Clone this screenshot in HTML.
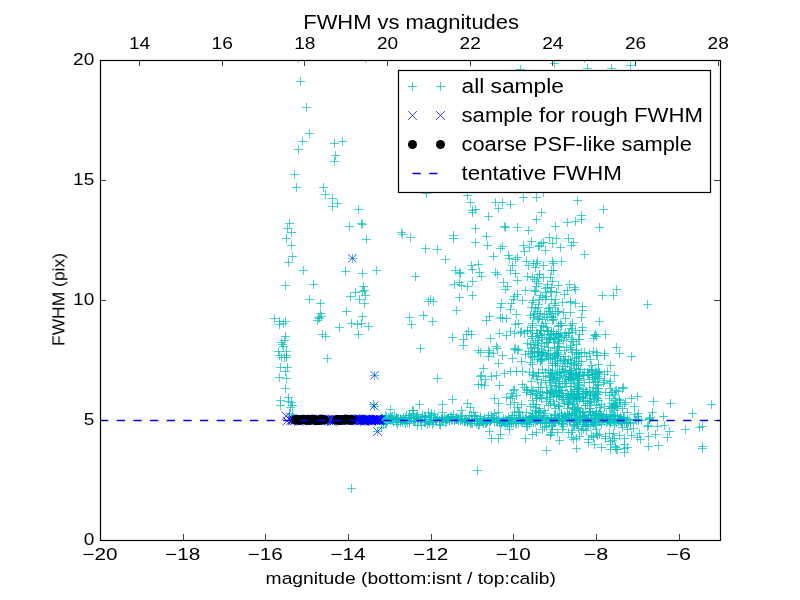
<!DOCTYPE html><html><head><meta charset="utf-8"><style>html,body{margin:0;padding:0;background:#fff;width:800px;height:600px;overflow:hidden}svg{display:block}</style></head><body>
<svg width="800" height="600" viewBox="0 0 800 600">
<rect x="0" y="0" width="800" height="600" fill="#fff"/>
<defs><clipPath id="ax"><rect x="100" y="60" width="620" height="480"/></clipPath></defs><g clip-path="url(#ax)">
<g stroke="#00bfbf" stroke-width="0.7" fill="none"><path d="M376 419.5h9M380.5 415v9"/><path d="M377 419.5h9M381.5 415v9"/><path d="M377 417.5h9M381.5 413v9"/><path d="M377 427.5h9M381.5 423v9"/><path d="M378 419.5h9M382.5 415v9"/><path d="M379 424.5h9M383.5 420v9"/><path d="M378 418.5h9M382.5 414v9"/><path d="M380 420.5h9M384.5 416v9"/><path d="M381 415.5h9M385.5 411v9"/><path d="M381 419.5h9M385.5 415v9"/><path d="M381 423.5h9M385.5 419v9"/><path d="M382 416.5h9M386.5 412v9"/><path d="M382 423.5h9M386.5 419v9"/><path d="M383 421.5h9M387.5 417v9"/><path d="M384 417.5h9M388.5 413v9"/><path d="M384 418.5h9M388.5 414v9"/><path d="M385 418.5h9M389.5 414v9"/><path d="M386 420.5h9M390.5 416v9"/><path d="M386 418.5h9M390.5 414v9"/><path d="M387 417.5h9M391.5 413v9"/><path d="M387 419.5h9M391.5 415v9"/><path d="M387 417.5h9M391.5 413v9"/><path d="M388 416.5h9M392.5 412v9"/><path d="M388 420.5h9M392.5 416v9"/><path d="M389 422.5h9M393.5 418v9"/><path d="M390 415.5h9M394.5 411v9"/><path d="M391 420.5h9M395.5 416v9"/><path d="M392 418.5h9M396.5 414v9"/><path d="M392 417.5h9M396.5 413v9"/><path d="M392 422.5h9M396.5 418v9"/><path d="M393 418.5h9M397.5 414v9"/><path d="M393 424.5h9M397.5 420v9"/><path d="M394 418.5h9M398.5 414v9"/><path d="M394 421.5h9M398.5 417v9"/><path d="M396 419.5h9M400.5 415v9"/><path d="M396 418.5h9M400.5 414v9"/><path d="M396 422.5h9M400.5 418v9"/><path d="M397 419.5h9M401.5 415v9"/><path d="M398 422.5h9M402.5 418v9"/><path d="M398 420.5h9M402.5 416v9"/><path d="M399 417.5h9M403.5 413v9"/><path d="M400 420.5h9M404.5 416v9"/><path d="M400 420.5h9M404.5 416v9"/><path d="M401 423.5h9M405.5 419v9"/><path d="M401 417.5h9M405.5 413v9"/><path d="M402 420.5h9M406.5 416v9"/><path d="M402 415.5h9M406.5 411v9"/><path d="M403 422.5h9M407.5 418v9"/><path d="M404 417.5h9M408.5 413v9"/><path d="M405 415.5h9M409.5 411v9"/><path d="M405 420.5h9M409.5 416v9"/><path d="M405 423.5h9M409.5 419v9"/><path d="M405 415.5h9M409.5 411v9"/><path d="M406 417.5h9M410.5 413v9"/><path d="M407 418.5h9M411.5 414v9"/><path d="M407 417.5h9M411.5 413v9"/><path d="M409 421.5h9M413.5 417v9"/><path d="M409 417.5h9M413.5 413v9"/><path d="M410 418.5h9M414.5 414v9"/><path d="M410 421.5h9M414.5 417v9"/><path d="M411 418.5h9M415.5 414v9"/><path d="M411 421.5h9M415.5 417v9"/><path d="M412 417.5h9M416.5 413v9"/><path d="M412 416.5h9M416.5 412v9"/><path d="M413 414.5h9M417.5 410v9"/><path d="M413 425.5h9M417.5 421v9"/><path d="M414 419.5h9M418.5 415v9"/><path d="M414 421.5h9M418.5 417v9"/><path d="M416 420.5h9M420.5 416v9"/><path d="M416 420.5h9M420.5 416v9"/><path d="M417 420.5h9M421.5 416v9"/><path d="M417 425.5h9M421.5 421v9"/><path d="M418 417.5h9M422.5 413v9"/><path d="M418 415.5h9M422.5 411v9"/><path d="M418 417.5h9M422.5 413v9"/><path d="M420 416.5h9M424.5 412v9"/><path d="M420 422.5h9M424.5 418v9"/><path d="M421 422.5h9M425.5 418v9"/><path d="M421 417.5h9M425.5 413v9"/><path d="M421 416.5h9M425.5 412v9"/><path d="M422 419.5h9M426.5 415v9"/><path d="M423 424.5h9M427.5 420v9"/><path d="M424 412.5h9M428.5 408v9"/><path d="M424 421.5h9M428.5 417v9"/><path d="M425 417.5h9M429.5 413v9"/><path d="M425 423.5h9M429.5 419v9"/><path d="M426 417.5h9M430.5 413v9"/><path d="M426 419.5h9M430.5 415v9"/><path d="M427 415.5h9M431.5 411v9"/><path d="M427 417.5h9M431.5 413v9"/><path d="M428 424.5h9M432.5 420v9"/><path d="M429 422.5h9M433.5 418v9"/><path d="M429 419.5h9M433.5 415v9"/><path d="M430 417.5h9M434.5 413v9"/><path d="M430 414.5h9M434.5 410v9"/><path d="M431 419.5h9M435.5 415v9"/><path d="M431 420.5h9M435.5 416v9"/><path d="M432 420.5h9M436.5 416v9"/><path d="M432 420.5h9M436.5 416v9"/><path d="M433 417.5h9M437.5 413v9"/><path d="M435 420.5h9M439.5 416v9"/><path d="M435 420.5h9M439.5 416v9"/><path d="M435 424.5h9M439.5 420v9"/><path d="M436 425.5h9M440.5 421v9"/><path d="M437 419.5h9M441.5 415v9"/><path d="M437 418.5h9M441.5 414v9"/><path d="M438 420.5h9M442.5 416v9"/><path d="M438 418.5h9M442.5 414v9"/><path d="M438 418.5h9M442.5 414v9"/><path d="M439 420.5h9M443.5 416v9"/><path d="M440 417.5h9M444.5 413v9"/><path d="M441 422.5h9M445.5 418v9"/><path d="M441 419.5h9M445.5 415v9"/><path d="M442 421.5h9M446.5 417v9"/><path d="M442 419.5h9M446.5 415v9"/><path d="M443 418.5h9M447.5 414v9"/><path d="M444 417.5h9M448.5 413v9"/><path d="M443 419.5h9M447.5 415v9"/><path d="M444 418.5h9M448.5 414v9"/><path d="M445 420.5h9M449.5 416v9"/><path d="M445 420.5h9M449.5 416v9"/><path d="M446 416.5h9M450.5 412v9"/><path d="M447 420.5h9M451.5 416v9"/><path d="M447 416.5h9M451.5 412v9"/><path d="M448 418.5h9M452.5 414v9"/><path d="M448 419.5h9M452.5 415v9"/><path d="M449 414.5h9M453.5 410v9"/><path d="M450 420.5h9M454.5 416v9"/><path d="M450 420.5h9M454.5 416v9"/><path d="M451 419.5h9M455.5 415v9"/><path d="M452 419.5h9M456.5 415v9"/><path d="M452 419.5h9M456.5 415v9"/><path d="M452 417.5h9M456.5 413v9"/><path d="M453 419.5h9M457.5 415v9"/><path d="M454 418.5h9M458.5 414v9"/><path d="M454 420.5h9M458.5 416v9"/><path d="M456 416.5h9M460.5 412v9"/><path d="M456 420.5h9M460.5 416v9"/><path d="M456 420.5h9M460.5 416v9"/><path d="M457 419.5h9M461.5 415v9"/><path d="M458 419.5h9M462.5 415v9"/><path d="M458 421.5h9M462.5 417v9"/><path d="M458 415.5h9M462.5 411v9"/><path d="M460 421.5h9M464.5 417v9"/><path d="M460 421.5h9M464.5 417v9"/><path d="M461 421.5h9M465.5 417v9"/><path d="M460 421.5h9M464.5 417v9"/><path d="M461 418.5h9M465.5 414v9"/><path d="M462 419.5h9M466.5 415v9"/><path d="M463 422.5h9M467.5 418v9"/><path d="M463 421.5h9M467.5 417v9"/><path d="M464 420.5h9M468.5 416v9"/><path d="M465 415.5h9M469.5 411v9"/><path d="M465 421.5h9M469.5 417v9"/><path d="M466 423.5h9M470.5 419v9"/><path d="M467 423.5h9M471.5 419v9"/><path d="M467 420.5h9M471.5 416v9"/><path d="M467 415.5h9M471.5 411v9"/><path d="M468 423.5h9M472.5 419v9"/><path d="M468 419.5h9M472.5 415v9"/><path d="M469 412.5h9M473.5 408v9"/><path d="M470 421.5h9M474.5 417v9"/><path d="M471 415.5h9M475.5 411v9"/><path d="M470 416.5h9M474.5 412v9"/><path d="M472 418.5h9M476.5 414v9"/><path d="M472 423.5h9M476.5 419v9"/><path d="M473 419.5h9M477.5 415v9"/><path d="M473 421.5h9M477.5 417v9"/><path d="M474 425.5h9M478.5 421v9"/><path d="M475 424.5h9M479.5 420v9"/><path d="M475 420.5h9M479.5 416v9"/><path d="M476 419.5h9M480.5 415v9"/><path d="M476 416.5h9M480.5 412v9"/><path d="M476 418.5h9M480.5 414v9"/><path d="M477 421.5h9M481.5 417v9"/><path d="M478 421.5h9M482.5 417v9"/><path d="M479 420.5h9M483.5 416v9"/><path d="M479 423.5h9M483.5 419v9"/><path d="M480 418.5h9M484.5 414v9"/><path d="M480 420.5h9M484.5 416v9"/><path d="M481 422.5h9M485.5 418v9"/><path d="M482 421.5h9M486.5 417v9"/><path d="M482 423.5h9M486.5 419v9"/><path d="M483 421.5h9M487.5 417v9"/><path d="M484 419.5h9M488.5 415v9"/><path d="M483 421.5h9M487.5 417v9"/><path d="M484 417.5h9M488.5 413v9"/><path d="M484 415.5h9M488.5 411v9"/><path d="M485 421.5h9M489.5 417v9"/><path d="M486 420.5h9M490.5 416v9"/><path d="M486 421.5h9M490.5 417v9"/><path d="M487 415.5h9M491.5 411v9"/><path d="M487 419.5h9M491.5 415v9"/><path d="M488 418.5h9M492.5 414v9"/><path d="M489 417.5h9M493.5 413v9"/><path d="M490 413.5h9M494.5 409v9"/><path d="M490 419.5h9M494.5 415v9"/><path d="M490 422.5h9M494.5 418v9"/><path d="M492 421.5h9M496.5 417v9"/><path d="M492 418.5h9M496.5 414v9"/><path d="M493 420.5h9M497.5 416v9"/><path d="M493 422.5h9M497.5 418v9"/><path d="M494 412.5h9M498.5 408v9"/><path d="M494 419.5h9M498.5 415v9"/><path d="M495 421.5h9M499.5 417v9"/><path d="M495 422.5h9M499.5 418v9"/><path d="M496 425.5h9M500.5 421v9"/><path d="M497 423.5h9M501.5 419v9"/><path d="M498 421.5h9M502.5 417v9"/><path d="M497 421.5h9M501.5 417v9"/><path d="M498 422.5h9M502.5 418v9"/><path d="M499 418.5h9M503.5 414v9"/><path d="M499 420.5h9M503.5 416v9"/><path d="M500 422.5h9M504.5 418v9"/><path d="M501 425.5h9M505.5 421v9"/><path d="M501 419.5h9M505.5 415v9"/><path d="M502 420.5h9M506.5 416v9"/><path d="M503 420.5h9M507.5 416v9"/><path d="M503 424.5h9M507.5 420v9"/><path d="M504 420.5h9M508.5 416v9"/><path d="M505 424.5h9M509.5 420v9"/><path d="M504 417.5h9M508.5 413v9"/><path d="M505 419.5h9M509.5 415v9"/><path d="M506 419.5h9M510.5 415v9"/><path d="M507 422.5h9M511.5 418v9"/><path d="M507 423.5h9M511.5 419v9"/><path d="M508 415.5h9M512.5 411v9"/><path d="M508 417.5h9M512.5 413v9"/><path d="M509 421.5h9M513.5 417v9"/><path d="M510 418.5h9M514.5 414v9"/><path d="M510 415.5h9M514.5 411v9"/><path d="M511 423.5h9M515.5 419v9"/><path d="M512 421.5h9M516.5 417v9"/><path d="M512 421.5h9M516.5 417v9"/><path d="M512 418.5h9M516.5 414v9"/><path d="M512 423.5h9M516.5 419v9"/><path d="M514 419.5h9M518.5 415v9"/><path d="M514 423.5h9M518.5 419v9"/><path d="M515 417.5h9M519.5 413v9"/><path d="M516 417.5h9M520.5 413v9"/><path d="M516 420.5h9M520.5 416v9"/><path d="M516 418.5h9M520.5 414v9"/><path d="M517 422.5h9M521.5 418v9"/><path d="M518 421.5h9M522.5 417v9"/><path d="M518 417.5h9M522.5 413v9"/><path d="M519 420.5h9M523.5 416v9"/><path d="M519 419.5h9M523.5 415v9"/><path d="M520 422.5h9M524.5 418v9"/><path d="M521 418.5h9M525.5 414v9"/><path d="M521 419.5h9M525.5 415v9"/><path d="M522 423.5h9M526.5 419v9"/><path d="M522 426.5h9M526.5 422v9"/><path d="M523 426.5h9M527.5 422v9"/><path d="M523 420.5h9M527.5 416v9"/><path d="M524 420.5h9M528.5 416v9"/><path d="M525 424.5h9M529.5 420v9"/><path d="M525 419.5h9M529.5 415v9"/><path d="M526 417.5h9M530.5 413v9"/><path d="M526 420.5h9M530.5 416v9"/><path d="M527 421.5h9M531.5 417v9"/><path d="M527 417.5h9M531.5 413v9"/><path d="M528 415.5h9M532.5 411v9"/><path d="M528 416.5h9M532.5 412v9"/><path d="M529 422.5h9M533.5 418v9"/><path d="M529 418.5h9M533.5 414v9"/><path d="M530 419.5h9M534.5 415v9"/><path d="M532 420.5h9M536.5 416v9"/><path d="M531 422.5h9M535.5 418v9"/><path d="M532 419.5h9M536.5 415v9"/><path d="M533 421.5h9M537.5 417v9"/><path d="M534 417.5h9M538.5 413v9"/><path d="M534 419.5h9M538.5 415v9"/><path d="M534 417.5h9M538.5 413v9"/><path d="M536 423.5h9M540.5 419v9"/><path d="M536 420.5h9M540.5 416v9"/><path d="M537 418.5h9M541.5 414v9"/><path d="M536 419.5h9M540.5 415v9"/><path d="M538 419.5h9M542.5 415v9"/><path d="M538 422.5h9M542.5 418v9"/><path d="M539 415.5h9M543.5 411v9"/><path d="M539 417.5h9M543.5 413v9"/><path d="M540 419.5h9M544.5 415v9"/><path d="M540 427.5h9M544.5 423v9"/><path d="M541 423.5h9M545.5 419v9"/><path d="M542 419.5h9M546.5 415v9"/><path d="M542 422.5h9M546.5 418v9"/><path d="M542 426.5h9M546.5 422v9"/><path d="M543 419.5h9M547.5 415v9"/><path d="M544 419.5h9M548.5 415v9"/><path d="M545 423.5h9M549.5 419v9"/><path d="M545 421.5h9M549.5 417v9"/><path d="M545 422.5h9M549.5 418v9"/><path d="M547 418.5h9M551.5 414v9"/><path d="M547 425.5h9M551.5 421v9"/><path d="M548 425.5h9M552.5 421v9"/><path d="M549 421.5h9M553.5 417v9"/><path d="M549 422.5h9M553.5 418v9"/><path d="M550 414.5h9M554.5 410v9"/><path d="M550 422.5h9M554.5 418v9"/><path d="M550 419.5h9M554.5 415v9"/><path d="M551 421.5h9M555.5 417v9"/><path d="M551 422.5h9M555.5 418v9"/><path d="M552 419.5h9M556.5 415v9"/><path d="M553 415.5h9M557.5 411v9"/><path d="M554 421.5h9M558.5 417v9"/><path d="M554 418.5h9M558.5 414v9"/><path d="M554 419.5h9M558.5 415v9"/><path d="M555 418.5h9M559.5 414v9"/><path d="M555 419.5h9M559.5 415v9"/><path d="M557 413.5h9M561.5 409v9"/><path d="M557 423.5h9M561.5 419v9"/><path d="M557 421.5h9M561.5 417v9"/><path d="M558 423.5h9M562.5 419v9"/><path d="M559 426.5h9M563.5 422v9"/><path d="M559 420.5h9M563.5 416v9"/><path d="M560 415.5h9M564.5 411v9"/><path d="M561 417.5h9M565.5 413v9"/><path d="M561 416.5h9M565.5 412v9"/><path d="M561 418.5h9M565.5 414v9"/><path d="M562 420.5h9M566.5 416v9"/><path d="M563 414.5h9M567.5 410v9"/><path d="M563 421.5h9M567.5 417v9"/><path d="M564 415.5h9M568.5 411v9"/><path d="M565 421.5h9M569.5 417v9"/><path d="M565 419.5h9M569.5 415v9"/><path d="M565 419.5h9M569.5 415v9"/><path d="M566 420.5h9M570.5 416v9"/><path d="M567 418.5h9M571.5 414v9"/><path d="M567 418.5h9M571.5 414v9"/><path d="M567 415.5h9M571.5 411v9"/><path d="M569 420.5h9M573.5 416v9"/><path d="M569 425.5h9M573.5 421v9"/><path d="M570 426.5h9M574.5 422v9"/><path d="M570 424.5h9M574.5 420v9"/><path d="M571 422.5h9M575.5 418v9"/><path d="M571 418.5h9M575.5 414v9"/><path d="M572 424.5h9M576.5 420v9"/><path d="M572 420.5h9M576.5 416v9"/><path d="M573 420.5h9M577.5 416v9"/><path d="M573 419.5h9M577.5 415v9"/><path d="M574 420.5h9M578.5 416v9"/><path d="M575 419.5h9M579.5 415v9"/><path d="M576 420.5h9M580.5 416v9"/><path d="M576 417.5h9M580.5 413v9"/><path d="M576 419.5h9M580.5 415v9"/><path d="M578 426.5h9M582.5 422v9"/><path d="M578 420.5h9M582.5 416v9"/><path d="M579 419.5h9M583.5 415v9"/><path d="M579 421.5h9M583.5 417v9"/><path d="M579 422.5h9M583.5 418v9"/><path d="M580 417.5h9M584.5 413v9"/><path d="M580 419.5h9M584.5 415v9"/><path d="M581 422.5h9M585.5 418v9"/><path d="M582 421.5h9M586.5 417v9"/><path d="M582 420.5h9M586.5 416v9"/><path d="M583 424.5h9M587.5 420v9"/><path d="M584 418.5h9M588.5 414v9"/><path d="M584 420.5h9M588.5 416v9"/><path d="M584 418.5h9M588.5 414v9"/><path d="M586 424.5h9M590.5 420v9"/><path d="M586 414.5h9M590.5 410v9"/><path d="M587 418.5h9M591.5 414v9"/><path d="M587 418.5h9M591.5 414v9"/><path d="M588 422.5h9M592.5 418v9"/><path d="M588 422.5h9M592.5 418v9"/><path d="M589 424.5h9M593.5 420v9"/><path d="M589 415.5h9M593.5 411v9"/><path d="M590 422.5h9M594.5 418v9"/><path d="M591 419.5h9M595.5 415v9"/><path d="M591 418.5h9M595.5 414v9"/><path d="M591 421.5h9M595.5 417v9"/><path d="M592 417.5h9M596.5 413v9"/><path d="M594 414.5h9M598.5 410v9"/><path d="M594 419.5h9M598.5 415v9"/><path d="M594 415.5h9M598.5 411v9"/><path d="M595 418.5h9M599.5 414v9"/><path d="M595 421.5h9M599.5 417v9"/><path d="M596 421.5h9M600.5 417v9"/><path d="M597 424.5h9M601.5 420v9"/><path d="M598 419.5h9M602.5 415v9"/><path d="M597 415.5h9M601.5 411v9"/><path d="M598 418.5h9M602.5 414v9"/><path d="M599 417.5h9M603.5 413v9"/><path d="M599 416.5h9M603.5 412v9"/><path d="M600 421.5h9M604.5 417v9"/><path d="M601 418.5h9M605.5 414v9"/><path d="M602 414.5h9M606.5 410v9"/><path d="M602 422.5h9M606.5 418v9"/><path d="M603 419.5h9M607.5 415v9"/><path d="M603 421.5h9M607.5 417v9"/><path d="M604 420.5h9M608.5 416v9"/><path d="M605 422.5h9M609.5 418v9"/><path d="M605 420.5h9M609.5 416v9"/><path d="M606 423.5h9M610.5 419v9"/><path d="M606 421.5h9M610.5 417v9"/><path d="M606 421.5h9M610.5 417v9"/><path d="M607 421.5h9M611.5 417v9"/><path d="M607 416.5h9M611.5 412v9"/><path d="M609 419.5h9M613.5 415v9"/><path d="M609 419.5h9M613.5 415v9"/><path d="M609 420.5h9M613.5 416v9"/><path d="M610 416.5h9M614.5 412v9"/><path d="M610 425.5h9M614.5 421v9"/><path d="M611 420.5h9M615.5 416v9"/><path d="M611 416.5h9M615.5 412v9"/><path d="M613 415.5h9M617.5 411v9"/><path d="M613 419.5h9M617.5 415v9"/><path d="M614 420.5h9M618.5 416v9"/><path d="M614 418.5h9M618.5 414v9"/><path d="M615 420.5h9M619.5 416v9"/><path d="M615 418.5h9M619.5 414v9"/><path d="M616 421.5h9M620.5 417v9"/><path d="M617 418.5h9M621.5 414v9"/><path d="M617 420.5h9M621.5 416v9"/><path d="M617 423.5h9M621.5 419v9"/><path d="M618 427.5h9M622.5 423v9"/><path d="M619 417.5h9M623.5 413v9"/><path d="M619 418.5h9M623.5 414v9"/><path d="M620 417.5h9M624.5 413v9"/><path d="M620 422.5h9M624.5 418v9"/><path d="M645 418.5h9M649.5 414v9"/><path d="M622 423.5h9M626.5 419v9"/><path d="M623 420.5h9M627.5 416v9"/><path d="M622 422.5h9M626.5 418v9"/><path d="M645 419.5h9M649.5 415v9"/><path d="M624 422.5h9M628.5 418v9"/><path d="M634 419.5h9M638.5 415v9"/><path d="M645 419.5h9M649.5 415v9"/><path d="M644 425.5h9M648.5 421v9"/><path d="M617 421.5h9M621.5 417v9"/><path d="M631 419.5h9M635.5 415v9"/><path d="M634 420.5h9M638.5 416v9"/><path d="M637 420.5h9M641.5 416v9"/><path d="M626 422.5h9M630.5 418v9"/><path d="M625 419.5h9M629.5 415v9"/><path d="M616 416.5h9M620.5 412v9"/><path d="M617 419.5h9M621.5 415v9"/><path d="M632 420.5h9M636.5 416v9"/><path d="M618 420.5h9M622.5 416v9"/><path d="M622 422.5h9M626.5 418v9"/><path d="M296 81.5h9M300.5 77v9"/><path d="M302 107.5h9M306.5 103v9"/><path d="M305 133.5h9M309.5 129v9"/><path d="M298 141.5h9M302.5 137v9"/><path d="M294 149.5h9M298.5 145v9"/><path d="M330 143.5h9M334.5 139v9"/><path d="M338 141.5h9M342.5 137v9"/><path d="M331 155.5h9M335.5 151v9"/><path d="M330 161.5h9M334.5 157v9"/><path d="M290 174.5h9M294.5 170v9"/><path d="M292 187.5h9M296.5 183v9"/><path d="M319 187.5h9M323.5 183v9"/><path d="M321 194.5h9M325.5 190v9"/><path d="M328 198.5h9M332.5 194v9"/><path d="M294 58.5h9M298.5 54v9"/><path d="M361 58.5h9M365.5 54v9"/><path d="M422 193.5h9M426.5 189v9"/><path d="M516 69.5h9M520.5 65v9"/><path d="M550 63.5h9M554.5 59v9"/><path d="M580 58.5h9M584.5 54v9"/><path d="M583 68.5h9M587.5 64v9"/><path d="M607 68.5h9M611.5 64v9"/><path d="M626 65.5h9M630.5 61v9"/><path d="M328 206.5h9M332.5 202v9"/><path d="M333 203.5h9M337.5 199v9"/><path d="M354 209.5h9M358.5 205v9"/><path d="M285 223.5h9M289.5 219v9"/><path d="M283 228.5h9M287.5 224v9"/><path d="M287 232.5h9M291.5 228v9"/><path d="M282 238.5h9M286.5 234v9"/><path d="M287 245.5h9M291.5 241v9"/><path d="M288 256.5h9M292.5 252v9"/><path d="M284 262.5h9M288.5 258v9"/><path d="M345 226.5h9M349.5 222v9"/><path d="M357 223.5h9M361.5 219v9"/><path d="M358 224.5h9M362.5 220v9"/><path d="M362 239.5h9M366.5 235v9"/><path d="M348 258.5h9M352.5 254v9"/><path d="M299 270.5h9M303.5 266v9"/><path d="M341 271.5h9M345.5 267v9"/><path d="M358 273.5h9M362.5 269v9"/><path d="M372 270.5h9M376.5 266v9"/><path d="M281 285.5h9M285.5 281v9"/><path d="M309 284.5h9M313.5 280v9"/><path d="M359 286.5h9M363.5 282v9"/><path d="M360 290.5h9M364.5 286v9"/><path d="M358 291.5h9M362.5 287v9"/><path d="M351 292.5h9M355.5 288v9"/><path d="M346 296.5h9M350.5 292v9"/><path d="M355 299.5h9M359.5 295v9"/><path d="M361 295.5h9M365.5 291v9"/><path d="M305 299.5h9M309.5 295v9"/><path d="M316 303.5h9M320.5 299v9"/><path d="M360 303.5h9M364.5 299v9"/><path d="M342 311.5h9M346.5 307v9"/><path d="M316 313.5h9M320.5 309v9"/><path d="M317 316.5h9M321.5 312v9"/><path d="M314 317.5h9M318.5 313v9"/><path d="M313 320.5h9M317.5 316v9"/><path d="M315 318.5h9M319.5 314v9"/><path d="M270 318.5h9M274.5 314v9"/><path d="M275 321.5h9M279.5 317v9"/><path d="M275 324.5h9M279.5 320v9"/><path d="M279 323.5h9M283.5 319v9"/><path d="M281 321.5h9M285.5 317v9"/><path d="M358 316.5h9M362.5 312v9"/><path d="M347 323.5h9M351.5 319v9"/><path d="M353 324.5h9M357.5 320v9"/><path d="M357 323.5h9M361.5 319v9"/><path d="M364 326.5h9M368.5 322v9"/><path d="M335 327.5h9M339.5 323v9"/><path d="M354 334.5h9M358.5 330v9"/><path d="M318 334.5h9M322.5 330v9"/><path d="M321 336.5h9M325.5 332v9"/><path d="M281 336.5h9M285.5 332v9"/><path d="M280 340.5h9M284.5 336v9"/><path d="M277 342.5h9M281.5 338v9"/><path d="M278 344.5h9M282.5 340v9"/><path d="M279 346.5h9M283.5 342v9"/><path d="M274 351.5h9M278.5 347v9"/><path d="M282 351.5h9M286.5 347v9"/><path d="M282 355.5h9M286.5 351v9"/><path d="M275 355.5h9M279.5 351v9"/><path d="M277 357.5h9M281.5 353v9"/><path d="M280 357.5h9M284.5 353v9"/><path d="M323 358.5h9M327.5 354v9"/><path d="M282 357.5h9M286.5 353v9"/><path d="M276 367.5h9M280.5 363v9"/><path d="M283 367.5h9M287.5 363v9"/><path d="M281 371.5h9M285.5 367v9"/><path d="M275 377.5h9M279.5 373v9"/><path d="M282 378.5h9M286.5 374v9"/><path d="M281 388.5h9M285.5 384v9"/><path d="M276 400.5h9M280.5 396v9"/><path d="M284 397.5h9M288.5 393v9"/><path d="M284 401.5h9M288.5 397v9"/><path d="M287 402.5h9M291.5 398v9"/><path d="M288 405.5h9M292.5 401v9"/><path d="M276 405.5h9M280.5 401v9"/><path d="M286 407.5h9M290.5 403v9"/><path d="M285 413.5h9M289.5 409v9"/><path d="M288 414.5h9M292.5 410v9"/><path d="M370 375.5h9M374.5 371v9"/><path d="M369 404.5h9M373.5 400v9"/><path d="M370 406.5h9M374.5 402v9"/><path d="M373 431.5h9M377.5 427v9"/><path d="M386 409.5h9M390.5 405v9"/><path d="M409 410.5h9M413.5 406v9"/><path d="M415 404.5h9M419.5 400v9"/><path d="M408 410.5h9M412.5 406v9"/><path d="M409 413.5h9M413.5 409v9"/><path d="M438 404.5h9M442.5 400v9"/><path d="M448 399.5h9M452.5 395v9"/><path d="M457 410.5h9M461.5 406v9"/><path d="M463 403.5h9M467.5 399v9"/><path d="M438 412.5h9M442.5 408v9"/><path d="M427 413.5h9M431.5 409v9"/><path d="M463 195.5h9M467.5 191v9"/><path d="M466 202.5h9M470.5 198v9"/><path d="M468 210.5h9M472.5 206v9"/><path d="M471 209.5h9M475.5 205v9"/><path d="M468 212.5h9M472.5 208v9"/><path d="M491 202.5h9M495.5 198v9"/><path d="M498 202.5h9M502.5 198v9"/><path d="M506 204.5h9M510.5 200v9"/><path d="M494 208.5h9M498.5 204v9"/><path d="M519 197.5h9M523.5 193v9"/><path d="M484 216.5h9M488.5 212v9"/><path d="M471 228.5h9M475.5 224v9"/><path d="M500 226.5h9M504.5 222v9"/><path d="M501 227.5h9M505.5 223v9"/><path d="M513 227.5h9M517.5 223v9"/><path d="M524 230.5h9M528.5 226v9"/><path d="M397 232.5h9M401.5 228v9"/><path d="M398 234.5h9M402.5 230v9"/><path d="M406 237.5h9M410.5 233v9"/><path d="M449 235.5h9M453.5 231v9"/><path d="M449 238.5h9M453.5 234v9"/><path d="M482 236.5h9M486.5 232v9"/><path d="M471 242.5h9M475.5 238v9"/><path d="M483 245.5h9M487.5 241v9"/><path d="M498 246.5h9M502.5 242v9"/><path d="M496 248.5h9M500.5 244v9"/><path d="M519 245.5h9M523.5 241v9"/><path d="M525 247.5h9M529.5 243v9"/><path d="M527 241.5h9M531.5 237v9"/><path d="M520 251.5h9M524.5 247v9"/><path d="M421 248.5h9M425.5 244v9"/><path d="M433 249.5h9M437.5 245v9"/><path d="M441 259.5h9M445.5 255v9"/><path d="M489 256.5h9M493.5 252v9"/><path d="M504 255.5h9M508.5 251v9"/><path d="M505 258.5h9M509.5 254v9"/><path d="M513 257.5h9M517.5 253v9"/><path d="M511 259.5h9M515.5 255v9"/><path d="M522 261.5h9M526.5 257v9"/><path d="M524 265.5h9M528.5 261v9"/><path d="M529 263.5h9M533.5 259v9"/><path d="M467 265.5h9M471.5 261v9"/><path d="M474 264.5h9M478.5 260v9"/><path d="M468 269.5h9M472.5 265v9"/><path d="M451 270.5h9M455.5 266v9"/><path d="M455 272.5h9M459.5 268v9"/><path d="M456 273.5h9M460.5 269v9"/><path d="M475 272.5h9M479.5 268v9"/><path d="M477 276.5h9M481.5 272v9"/><path d="M491 272.5h9M495.5 268v9"/><path d="M493 274.5h9M497.5 270v9"/><path d="M508 265.5h9M512.5 261v9"/><path d="M506 270.5h9M510.5 266v9"/><path d="M511 273.5h9M515.5 269v9"/><path d="M523 276.5h9M527.5 272v9"/><path d="M411 276.5h9M415.5 272v9"/><path d="M468 281.5h9M472.5 277v9"/><path d="M450 284.5h9M454.5 280v9"/><path d="M455 282.5h9M459.5 278v9"/><path d="M457 285.5h9M461.5 281v9"/><path d="M463 286.5h9M467.5 282v9"/><path d="M499 282.5h9M503.5 278v9"/><path d="M503 286.5h9M507.5 282v9"/><path d="M501 289.5h9M505.5 285v9"/><path d="M513 280.5h9M517.5 276v9"/><path d="M521 290.5h9M525.5 286v9"/><path d="M530 279.5h9M534.5 275v9"/><path d="M455 297.5h9M459.5 293v9"/><path d="M468 295.5h9M472.5 291v9"/><path d="M510 296.5h9M514.5 292v9"/><path d="M513 294.5h9M517.5 290v9"/><path d="M426 299.5h9M430.5 295v9"/><path d="M532 219.5h9M536.5 215v9"/><path d="M532 197.5h9M536.5 193v9"/><path d="M537 212.5h9M541.5 208v9"/><path d="M539 192.5h9M543.5 188v9"/><path d="M573 200.5h9M577.5 196v9"/><path d="M599 209.5h9M603.5 205v9"/><path d="M577 215.5h9M581.5 211v9"/><path d="M577 219.5h9M581.5 215v9"/><path d="M571 221.5h9M575.5 217v9"/><path d="M563 222.5h9M567.5 218v9"/><path d="M551 226.5h9M555.5 222v9"/><path d="M595 227.5h9M599.5 223v9"/><path d="M545 237.5h9M549.5 233v9"/><path d="M552 238.5h9M556.5 234v9"/><path d="M564 238.5h9M568.5 234v9"/><path d="M569 242.5h9M573.5 238v9"/><path d="M567 245.5h9M571.5 241v9"/><path d="M548 243.5h9M552.5 239v9"/><path d="M556 247.5h9M560.5 243v9"/><path d="M535 245.5h9M539.5 241v9"/><path d="M537 243.5h9M541.5 239v9"/><path d="M534 246.5h9M538.5 242v9"/><path d="M539 242.5h9M543.5 238v9"/><path d="M541 250.5h9M545.5 246v9"/><path d="M580 254.5h9M584.5 250v9"/><path d="M533 261.5h9M537.5 257v9"/><path d="M548 261.5h9M552.5 257v9"/><path d="M549 263.5h9M553.5 259v9"/><path d="M557 261.5h9M561.5 257v9"/><path d="M424 301.5h9M428.5 297v9"/><path d="M429 301.5h9M433.5 297v9"/><path d="M452 310.5h9M456.5 306v9"/><path d="M405 317.5h9M409.5 313v9"/><path d="M407 324.5h9M411.5 320v9"/><path d="M419 315.5h9M423.5 311v9"/><path d="M428 321.5h9M432.5 317v9"/><path d="M485 316.5h9M489.5 312v9"/><path d="M482 320.5h9M486.5 316v9"/><path d="M448 337.5h9M452.5 333v9"/><path d="M459 339.5h9M463.5 335v9"/><path d="M462 334.5h9M466.5 330v9"/><path d="M464 331.5h9M468.5 327v9"/><path d="M467 334.5h9M471.5 330v9"/><path d="M459 345.5h9M463.5 341v9"/><path d="M486 338.5h9M490.5 334v9"/><path d="M416 348.5h9M420.5 344v9"/><path d="M474 350.5h9M478.5 346v9"/><path d="M476 352.5h9M480.5 348v9"/><path d="M484 350.5h9M488.5 346v9"/><path d="M485 352.5h9M489.5 348v9"/><path d="M484 356.5h9M488.5 352v9"/><path d="M489 353.5h9M493.5 349v9"/><path d="M479 368.5h9M483.5 364v9"/><path d="M532 263.5h9M536.5 259v9"/><path d="M539 265.5h9M543.5 261v9"/><path d="M531 267.5h9M535.5 263v9"/><path d="M549 270.5h9M553.5 266v9"/><path d="M533 277.5h9M537.5 273v9"/><path d="M535 274.5h9M539.5 270v9"/><path d="M539 277.5h9M543.5 273v9"/><path d="M546 277.5h9M550.5 273v9"/><path d="M532 281.5h9M536.5 277v9"/><path d="M534 283.5h9M538.5 279v9"/><path d="M543 284.5h9M547.5 280v9"/><path d="M554 285.5h9M558.5 281v9"/><path d="M565 284.5h9M569.5 280v9"/><path d="M571 289.5h9M575.5 285v9"/><path d="M563 290.5h9M567.5 286v9"/><path d="M531 291.5h9M535.5 287v9"/><path d="M541 288.5h9M545.5 284v9"/><path d="M546 291.5h9M550.5 287v9"/><path d="M552 292.5h9M556.5 288v9"/><path d="M536 295.5h9M540.5 291v9"/><path d="M538 297.5h9M542.5 293v9"/><path d="M518 300.5h9M522.5 296v9"/><path d="M509 299.5h9M513.5 295v9"/><path d="M507 303.5h9M511.5 299v9"/><path d="M497 303.5h9M501.5 299v9"/><path d="M496 307.5h9M500.5 303v9"/><path d="M529 300.5h9M533.5 296v9"/><path d="M534 304.5h9M538.5 300v9"/><path d="M547 299.5h9M551.5 295v9"/><path d="M551 305.5h9M555.5 301v9"/><path d="M558 302.5h9M562.5 298v9"/><path d="M566 302.5h9M570.5 298v9"/><path d="M571 303.5h9M575.5 299v9"/><path d="M578 306.5h9M582.5 302v9"/><path d="M578 310.5h9M582.5 306v9"/><path d="M506 309.5h9M510.5 305v9"/><path d="M512 314.5h9M516.5 310v9"/><path d="M496 317.5h9M500.5 313v9"/><path d="M498 318.5h9M502.5 314v9"/><path d="M502 318.5h9M506.5 314v9"/><path d="M526 315.5h9M530.5 311v9"/><path d="M529 317.5h9M533.5 313v9"/><path d="M542 314.5h9M546.5 310v9"/><path d="M547 316.5h9M551.5 312v9"/><path d="M544 308.5h9M548.5 304v9"/><path d="M559 312.5h9M563.5 308v9"/><path d="M566 312.5h9M570.5 308v9"/><path d="M577 317.5h9M581.5 313v9"/><path d="M511 324.5h9M515.5 320v9"/><path d="M514 323.5h9M518.5 319v9"/><path d="M541 323.5h9M545.5 319v9"/><path d="M542 327.5h9M546.5 323v9"/><path d="M556 323.5h9M560.5 319v9"/><path d="M568 323.5h9M572.5 319v9"/><path d="M528 323.5h9M532.5 319v9"/><path d="M506 331.5h9M510.5 327v9"/><path d="M495 333.5h9M499.5 329v9"/><path d="M516 332.5h9M520.5 328v9"/><path d="M523 330.5h9M527.5 326v9"/><path d="M533 333.5h9M537.5 329v9"/><path d="M544 331.5h9M548.5 327v9"/><path d="M556 333.5h9M560.5 329v9"/><path d="M561 332.5h9M565.5 328v9"/><path d="M571 330.5h9M575.5 326v9"/><path d="M578 330.5h9M582.5 326v9"/><path d="M538 319.5h9M542.5 315v9"/><path d="M548 320.5h9M552.5 316v9"/><path d="M561 318.5h9M565.5 314v9"/><path d="M612 289.5h9M616.5 285v9"/><path d="M598 295.5h9M602.5 291v9"/><path d="M609 295.5h9M613.5 291v9"/><path d="M643 304.5h9M647.5 300v9"/><path d="M595 321.5h9M599.5 317v9"/><path d="M601 334.5h9M605.5 330v9"/><path d="M590 335.5h9M594.5 331v9"/><path d="M493 348.5h9M497.5 344v9"/><path d="M494 363.5h9M498.5 359v9"/><path d="M433 378.5h9M437.5 374v9"/><path d="M477 375.5h9M481.5 371v9"/><path d="M476 376.5h9M480.5 372v9"/><path d="M481 379.5h9M485.5 375v9"/><path d="M487 376.5h9M491.5 372v9"/><path d="M492 375.5h9M496.5 371v9"/><path d="M474 384.5h9M478.5 380v9"/><path d="M477 384.5h9M481.5 380v9"/><path d="M480 385.5h9M484.5 381v9"/><path d="M495 385.5h9M499.5 381v9"/><path d="M466 407.5h9M470.5 403v9"/><path d="M490 398.5h9M494.5 394v9"/><path d="M494 403.5h9M498.5 399v9"/><path d="M589 338.5h9M593.5 334v9"/><path d="M615 353.5h9M619.5 349v9"/><path d="M600 355.5h9M604.5 351v9"/><path d="M606 365.5h9M610.5 361v9"/><path d="M606 381.5h9M610.5 377v9"/><path d="M619 387.5h9M623.5 383v9"/><path d="M612 390.5h9M616.5 386v9"/><path d="M649 401.5h9M653.5 397v9"/><path d="M666 403.5h9M670.5 399v9"/><path d="M707 404.5h9M711.5 400v9"/><path d="M688 413.5h9M692.5 409v9"/><path d="M648 412.5h9M652.5 408v9"/><path d="M659 416.5h9M663.5 412v9"/><path d="M646 417.5h9M650.5 413v9"/><path d="M633 416.5h9M637.5 412v9"/><path d="M630 406.5h9M634.5 402v9"/><path d="M618 388.5h9M622.5 384v9"/><path d="M611 390.5h9M615.5 386v9"/><path d="M681 429.5h9M685.5 425v9"/><path d="M695 427.5h9M699.5 423v9"/><path d="M698 426.5h9M702.5 422v9"/><path d="M643 426.5h9M647.5 422v9"/><path d="M653 426.5h9M657.5 422v9"/><path d="M660 425.5h9M664.5 421v9"/><path d="M665 431.5h9M669.5 427v9"/><path d="M651 434.5h9M655.5 430v9"/><path d="M644 436.5h9M648.5 432v9"/><path d="M663 437.5h9M667.5 433v9"/><path d="M636 439.5h9M640.5 435v9"/><path d="M633 437.5h9M637.5 433v9"/><path d="M644 446.5h9M648.5 442v9"/><path d="M698 446.5h9M702.5 442v9"/><path d="M698 448.5h9M702.5 444v9"/><path d="M611 446.5h9M615.5 442v9"/><path d="M620 452.5h9M624.5 448v9"/><path d="M623 447.5h9M627.5 443v9"/><path d="M597 447.5h9M601.5 443v9"/><path d="M608 440.5h9M612.5 436v9"/><path d="M620 438.5h9M624.5 434v9"/><path d="M627 435.5h9M631.5 431v9"/><path d="M629 428.5h9M633.5 424v9"/><path d="M623 429.5h9M627.5 425v9"/><path d="M626 423.5h9M630.5 419v9"/><path d="M617 423.5h9M621.5 419v9"/><path d="M623 412.5h9M627.5 408v9"/><path d="M620 404.5h9M624.5 400v9"/><path d="M615 399.5h9M619.5 395v9"/><path d="M605 398.5h9M609.5 394v9"/><path d="M597 404.5h9M601.5 400v9"/><path d="M605 383.5h9M609.5 379v9"/><path d="M599 382.5h9M603.5 378v9"/><path d="M485 431.5h9M489.5 427v9"/><path d="M505 429.5h9M509.5 425v9"/><path d="M473 470.5h9M477.5 466v9"/><path d="M347 488.5h9M351.5 484v9"/><path d="M521 438.5h9M525.5 434v9"/><path d="M555 440.5h9M559.5 436v9"/><path d="M567 437.5h9M571.5 433v9"/><path d="M546 434.5h9M550.5 430v9"/><path d="M532 432.5h9M536.5 428v9"/><path d="M505 426.5h9M509.5 422v9"/><path d="M584 442.5h9M588.5 438v9"/><path d="M590 444.5h9M594.5 440v9"/><path d="M608 438.5h9M612.5 434v9"/><path d="M601 436.5h9M605.5 432v9"/><path d="M589 437.5h9M593.5 433v9"/><path d="M528 277.5h9M532.5 273v9"/><path d="M570 287.5h9M574.5 283v9"/><path d="M528 302.5h9M532.5 298v9"/><path d="M560 294.5h9M564.5 290v9"/><path d="M548 313.5h9M552.5 309v9"/><path d="M557 325.5h9M561.5 321v9"/><path d="M578 327.5h9M582.5 323v9"/><path d="M508 358.5h9M512.5 354v9"/><path d="M514 349.5h9M518.5 345v9"/><path d="M546 338.5h9M550.5 334v9"/><path d="M546 359.5h9M550.5 355v9"/><path d="M574 339.5h9M578.5 335v9"/><path d="M612 347.5h9M616.5 343v9"/><path d="M500 373.5h9M504.5 369v9"/><path d="M506 371.5h9M510.5 367v9"/><path d="M537 352.5h9M541.5 348v9"/><path d="M565 377.5h9M569.5 373v9"/><path d="M572 368.5h9M576.5 364v9"/><path d="M594 372.5h9M598.5 368v9"/><path d="M627 356.5h9M631.5 352v9"/><path d="M510 389.5h9M514.5 385v9"/><path d="M526 394.5h9M530.5 390v9"/><path d="M538 392.5h9M542.5 388v9"/><path d="M572 373.5h9M576.5 369v9"/><path d="M591 381.5h9M595.5 377v9"/><path d="M600 374.5h9M604.5 370v9"/><path d="M506 398.5h9M510.5 394v9"/><path d="M532 398.5h9M536.5 394v9"/><path d="M542 401.5h9M546.5 397v9"/><path d="M564 395.5h9M568.5 391v9"/><path d="M571 412.5h9M575.5 408v9"/><path d="M608 407.5h9M612.5 403v9"/><path d="M633 396.5h9M637.5 392v9"/><path d="M551 415.5h9M555.5 411v9"/><path d="M574 428.5h9M578.5 424v9"/><path d="M584 439.5h9M588.5 435v9"/><path d="M609 433.5h9M613.5 429v9"/><path d="M487 438.5h9M491.5 434v9"/><path d="M528 434.5h9M532.5 430v9"/><path d="M572 448.5h9M576.5 444v9"/><path d="M589 436.5h9M593.5 432v9"/><path d="M620 448.5h9M624.5 444v9"/><path d="M654 445.5h9M658.5 441v9"/><path d="M532 286.5h9M536.5 282v9"/><path d="M547 291.5h9M551.5 287v9"/><path d="M566 301.5h9M570.5 297v9"/><path d="M543 330.5h9M547.5 326v9"/><path d="M566 325.5h9M570.5 321v9"/><path d="M502 335.5h9M506.5 331v9"/><path d="M520 333.5h9M524.5 329v9"/><path d="M540 346.5h9M544.5 342v9"/><path d="M569 341.5h9M573.5 337v9"/><path d="M566 345.5h9M570.5 341v9"/><path d="M592 352.5h9M596.5 348v9"/><path d="M517 361.5h9M521.5 357v9"/><path d="M553 361.5h9M557.5 357v9"/><path d="M556 360.5h9M560.5 356v9"/><path d="M580 352.5h9M584.5 348v9"/><path d="M502 397.5h9M506.5 393v9"/><path d="M522 392.5h9M526.5 388v9"/><path d="M554 395.5h9M558.5 391v9"/><path d="M568 394.5h9M572.5 390v9"/><path d="M590 377.5h9M594.5 373v9"/><path d="M600 380.5h9M604.5 376v9"/><path d="M513 407.5h9M517.5 403v9"/><path d="M535 408.5h9M539.5 404v9"/><path d="M563 393.5h9M567.5 389v9"/><path d="M579 401.5h9M583.5 397v9"/><path d="M607 392.5h9M611.5 388v9"/><path d="M611 405.5h9M615.5 401v9"/><path d="M538 429.5h9M542.5 425v9"/><path d="M555 415.5h9M559.5 411v9"/><path d="M593 417.5h9M597.5 413v9"/><path d="M590 418.5h9M594.5 414v9"/><path d="M496 434.5h9M500.5 430v9"/><path d="M542 450.5h9M546.5 446v9"/><path d="M569 439.5h9M573.5 435v9"/><path d="M606 449.5h9M610.5 445v9"/><path d="M635 433.5h9M639.5 429v9"/><path d="M542 296.5h9M546.5 292v9"/><path d="M527 307.5h9M531.5 303v9"/><path d="M551 313.5h9M555.5 309v9"/><path d="M554 326.5h9M558.5 322v9"/><path d="M546 311.5h9M550.5 307v9"/><path d="M498 355.5h9M502.5 351v9"/><path d="M513 350.5h9M517.5 346v9"/><path d="M538 337.5h9M542.5 333v9"/><path d="M567 339.5h9M571.5 335v9"/><path d="M577 352.5h9M581.5 348v9"/><path d="M600 353.5h9M604.5 349v9"/><path d="M521 354.5h9M525.5 350v9"/><path d="M539 376.5h9M543.5 372v9"/><path d="M562 378.5h9M566.5 374v9"/><path d="M566 360.5h9M570.5 356v9"/><path d="M509 390.5h9M513.5 386v9"/><path d="M522 389.5h9M526.5 385v9"/><path d="M552 390.5h9M556.5 386v9"/><path d="M562 386.5h9M566.5 382v9"/><path d="M585 379.5h9M589.5 375v9"/><path d="M606 388.5h9M610.5 384v9"/><path d="M529 404.5h9M533.5 400v9"/><path d="M526 406.5h9M530.5 402v9"/><path d="M571 409.5h9M575.5 405v9"/><path d="M585 401.5h9M589.5 397v9"/><path d="M596 411.5h9M600.5 407v9"/><path d="M608 415.5h9M612.5 411v9"/><path d="M572 438.5h9M576.5 434v9"/><path d="M570 413.5h9M574.5 409v9"/><path d="M612 422.5h9M616.5 418v9"/><path d="M494 438.5h9M498.5 434v9"/><path d="M605 433.5h9M609.5 429v9"/><path d="M620 444.5h9M624.5 440v9"/><path d="M547 270.5h9M551.5 266v9"/><path d="M550 303.5h9M554.5 299v9"/><path d="M539 326.5h9M543.5 322v9"/><path d="M554 336.5h9M558.5 332v9"/><path d="M492 346.5h9M496.5 342v9"/><path d="M511 348.5h9M515.5 344v9"/><path d="M553 356.5h9M557.5 352v9"/><path d="M550 348.5h9M554.5 344v9"/><path d="M592 336.5h9M596.5 332v9"/><path d="M518 371.5h9M522.5 367v9"/><path d="M548 363.5h9M552.5 359v9"/><path d="M565 370.5h9M569.5 366v9"/><path d="M576 369.5h9M580.5 365v9"/><path d="M523 390.5h9M527.5 386v9"/><path d="M541 380.5h9M545.5 376v9"/><path d="M559 397.5h9M563.5 393v9"/><path d="M571 374.5h9M575.5 370v9"/><path d="M586 395.5h9M590.5 391v9"/><path d="M535 397.5h9M539.5 393v9"/><path d="M533 395.5h9M537.5 391v9"/><path d="M564 404.5h9M568.5 400v9"/><path d="M590 396.5h9M594.5 392v9"/><path d="M612 403.5h9M616.5 399v9"/><path d="M630 414.5h9M634.5 410v9"/><path d="M573 424.5h9M577.5 420v9"/><path d="M584 426.5h9M588.5 422v9"/><path d="M591 425.5h9M595.5 421v9"/><path d="M613 449.5h9M617.5 445v9"/><path d="M606 444.5h9M610.5 440v9"/><path d="M535 274.5h9M539.5 270v9"/><path d="M530 313.5h9M534.5 309v9"/><path d="M554 325.5h9M558.5 321v9"/><path d="M557 325.5h9M561.5 321v9"/><path d="M530 352.5h9M534.5 348v9"/><path d="M527 336.5h9M531.5 332v9"/><path d="M572 344.5h9M576.5 340v9"/><path d="M585 353.5h9M589.5 349v9"/><path d="M525 372.5h9M529.5 368v9"/><path d="M542 356.5h9M546.5 352v9"/><path d="M551 379.5h9M555.5 375v9"/><path d="M566 370.5h9M570.5 366v9"/><path d="M532 376.5h9M536.5 372v9"/><path d="M527 381.5h9M531.5 377v9"/><path d="M555 383.5h9M559.5 379v9"/><path d="M578 398.5h9M582.5 394v9"/><path d="M589 398.5h9M593.5 394v9"/><path d="M507 418.5h9M511.5 414v9"/><path d="M535 411.5h9M539.5 407v9"/><path d="M546 403.5h9M550.5 399v9"/><path d="M586 408.5h9M590.5 404v9"/><path d="M610 394.5h9M614.5 390v9"/><path d="M618 408.5h9M622.5 404v9"/><path d="M546 435.5h9M550.5 431v9"/><path d="M578 417.5h9M582.5 413v9"/><path d="M592 429.5h9M596.5 425v9"/><path d="M587 435.5h9M591.5 431v9"/><path d="M615 435.5h9M619.5 431v9"/><path d="M547 287.5h9M551.5 283v9"/><path d="M553 311.5h9M557.5 307v9"/><path d="M534 319.5h9M538.5 315v9"/><path d="M549 317.5h9M553.5 313v9"/><path d="M524 351.5h9M528.5 347v9"/><path d="M534 340.5h9M538.5 336v9"/><path d="M570 358.5h9M574.5 354v9"/><path d="M568 332.5h9M572.5 328v9"/><path d="M528 364.5h9M532.5 360v9"/><path d="M538 369.5h9M542.5 365v9"/><path d="M568 352.5h9M572.5 348v9"/><path d="M594 378.5h9M598.5 374v9"/><path d="M518 384.5h9M522.5 380v9"/><path d="M534 387.5h9M538.5 383v9"/><path d="M552 386.5h9M556.5 382v9"/><path d="M593 385.5h9M597.5 381v9"/><path d="M610 375.5h9M614.5 371v9"/><path d="M532 393.5h9M536.5 389v9"/><path d="M532 411.5h9M536.5 407v9"/><path d="M555 393.5h9M559.5 389v9"/><path d="M568 413.5h9M572.5 409v9"/><path d="M586 391.5h9M590.5 387v9"/><path d="M634 413.5h9M638.5 409v9"/><path d="M557 415.5h9M561.5 411v9"/><path d="M592 433.5h9M596.5 429v9"/><path d="M606 441.5h9M610.5 437v9"/><path d="M541 299.5h9M545.5 295v9"/><path d="M541 292.5h9M545.5 288v9"/><path d="M528 327.5h9M532.5 323v9"/><path d="M567 328.5h9M571.5 324v9"/><path d="M528 338.5h9M532.5 334v9"/><path d="M537 337.5h9M541.5 333v9"/><path d="M557 337.5h9M561.5 333v9"/><path d="M591 334.5h9M595.5 330v9"/><path d="M512 371.5h9M516.5 367v9"/><path d="M537 360.5h9M541.5 356v9"/><path d="M575 376.5h9M579.5 372v9"/><path d="M572 354.5h9M576.5 350v9"/><path d="M520 387.5h9M524.5 383v9"/><path d="M536 387.5h9M540.5 383v9"/><path d="M566 394.5h9M570.5 390v9"/><path d="M573 389.5h9M577.5 385v9"/><path d="M587 371.5h9M591.5 367v9"/><path d="M507 393.5h9M511.5 389v9"/><path d="M549 401.5h9M553.5 397v9"/><path d="M560 403.5h9M564.5 399v9"/><path d="M572 391.5h9M576.5 387v9"/><path d="M591 415.5h9M595.5 411v9"/><path d="M616 402.5h9M620.5 398v9"/><path d="M553 432.5h9M557.5 428v9"/><path d="M587 421.5h9M591.5 417v9"/><path d="M601 438.5h9M605.5 434v9"/><path d="M543 287.5h9M547.5 283v9"/><path d="M543 317.5h9M547.5 313v9"/><path d="M554 311.5h9M558.5 307v9"/><path d="M517 331.5h9M521.5 327v9"/><path d="M537 354.5h9M541.5 350v9"/><path d="M566 347.5h9M570.5 343v9"/><path d="M528 374.5h9M532.5 370v9"/><path d="M564 359.5h9M568.5 355v9"/><path d="M589 351.5h9M593.5 347v9"/><path d="M531 393.5h9M535.5 389v9"/><path d="M547 373.5h9M551.5 369v9"/><path d="M581 391.5h9M585.5 387v9"/><path d="M603 371.5h9M607.5 367v9"/><path d="M514 411.5h9M518.5 407v9"/><path d="M536 395.5h9M540.5 391v9"/><path d="M546 397.5h9M550.5 393v9"/><path d="M593 391.5h9M597.5 387v9"/><path d="M602 417.5h9M606.5 413v9"/><path d="M627 398.5h9M631.5 394v9"/><path d="M565 413.5h9M569.5 409v9"/><path d="M580 417.5h9M584.5 413v9"/><path d="M612 449.5h9M616.5 445v9"/><path d="M548 281.5h9M552.5 277v9"/><path d="M549 319.5h9M553.5 315v9"/><path d="M537 325.5h9M541.5 321v9"/><path d="M510 333.5h9M514.5 329v9"/><path d="M547 331.5h9M551.5 327v9"/><path d="M564 333.5h9M568.5 329v9"/><path d="M546 372.5h9M550.5 368v9"/><path d="M574 361.5h9M578.5 357v9"/><path d="M577 361.5h9M581.5 357v9"/><path d="M547 393.5h9M551.5 389v9"/><path d="M549 379.5h9M553.5 375v9"/><path d="M567 377.5h9M571.5 373v9"/><path d="M528 418.5h9M532.5 414v9"/><path d="M555 392.5h9M559.5 388v9"/><path d="M558 416.5h9M562.5 412v9"/><path d="M581 400.5h9M585.5 396v9"/><path d="M609 415.5h9M613.5 411v9"/><path d="M610 405.5h9M614.5 401v9"/><path d="M550 415.5h9M554.5 411v9"/><path d="M581 417.5h9M585.5 413v9"/><path d="M610 438.5h9M614.5 434v9"/><path d="M531 308.5h9M535.5 304v9"/><path d="M533 311.5h9M537.5 307v9"/><path d="M535 335.5h9M539.5 331v9"/><path d="M529 344.5h9M533.5 340v9"/><path d="M546 353.5h9M550.5 349v9"/><path d="M528 351.5h9M532.5 347v9"/><path d="M574 365.5h9M578.5 361v9"/><path d="M593 376.5h9M597.5 372v9"/><path d="M548 370.5h9M552.5 366v9"/><path d="M565 371.5h9M569.5 367v9"/><path d="M566 395.5h9M570.5 391v9"/><path d="M515 412.5h9M519.5 408v9"/><path d="M541 413.5h9M545.5 409v9"/><path d="M565 419.5h9M569.5 415v9"/><path d="M580 415.5h9M584.5 411v9"/><path d="M610 407.5h9M614.5 403v9"/><path d="M621 402.5h9M625.5 398v9"/><path d="M565 415.5h9M569.5 411v9"/><path d="M579 429.5h9M583.5 425v9"/><path d="M595 434.5h9M599.5 430v9"/><path d="M529 314.5h9M533.5 310v9"/><path d="M552 335.5h9M556.5 331v9"/><path d="M527 348.5h9M531.5 344v9"/><path d="M527 356.5h9M531.5 352v9"/><path d="M560 350.5h9M564.5 346v9"/><path d="M529 372.5h9M533.5 368v9"/><path d="M550 378.5h9M554.5 374v9"/><path d="M587 365.5h9M591.5 361v9"/><path d="M545 376.5h9M549.5 372v9"/><path d="M560 372.5h9M564.5 368v9"/><path d="M574 378.5h9M578.5 374v9"/><path d="M510 402.5h9M514.5 398v9"/><path d="M527 390.5h9M531.5 386v9"/><path d="M555 419.5h9M559.5 415v9"/><path d="M587 402.5h9M591.5 398v9"/><path d="M591 393.5h9M595.5 389v9"/><path d="M558 429.5h9M562.5 425v9"/><path d="M590 423.5h9M594.5 419v9"/><path d="M611 447.5h9M615.5 443v9"/><path d="M551 299.5h9M555.5 295v9"/><path d="M540 314.5h9M544.5 310v9"/><path d="M523 331.5h9M527.5 327v9"/><path d="M540 334.5h9M544.5 330v9"/><path d="M560 335.5h9M564.5 331v9"/><path d="M526 362.5h9M530.5 358v9"/><path d="M558 366.5h9M562.5 362v9"/><path d="M569 364.5h9M573.5 360v9"/><path d="M534 372.5h9M538.5 368v9"/><path d="M558 390.5h9M562.5 386v9"/><path d="M575 391.5h9M579.5 387v9"/><path d="M529 390.5h9M533.5 386v9"/><path d="M532 398.5h9M536.5 394v9"/><path d="M563 404.5h9M567.5 400v9"/><path d="M583 392.5h9M587.5 388v9"/><path d="M594 394.5h9M598.5 390v9"/><path d="M568 430.5h9M572.5 426v9"/><path d="M575 436.5h9M579.5 432v9"/><path d="M530 290.5h9M534.5 286v9"/><path d="M537 330.5h9M541.5 326v9"/><path d="M534 345.5h9M538.5 341v9"/><path d="M530 347.5h9M534.5 343v9"/><path d="M546 354.5h9M550.5 350v9"/><path d="M535 353.5h9M539.5 349v9"/><path d="M550 374.5h9M554.5 370v9"/><path d="M593 355.5h9M597.5 351v9"/><path d="M555 395.5h9M559.5 391v9"/><path d="M555 371.5h9M559.5 367v9"/><path d="M570 383.5h9M574.5 379v9"/><path d="M512 395.5h9M516.5 391v9"/><path d="M534 416.5h9M538.5 412v9"/><path d="M547 417.5h9M551.5 413v9"/><path d="M579 412.5h9M583.5 408v9"/><path d="M601 418.5h9M605.5 414v9"/><path d="M551 417.5h9M555.5 413v9"/><path d="M581 425.5h9M585.5 421v9"/><path d="M535 299.5h9M539.5 295v9"/><path d="M528 325.5h9M532.5 321v9"/><path d="M530 356.5h9M534.5 352v9"/><path d="M538 359.5h9M542.5 355v9"/><path d="M575 339.5h9M579.5 335v9"/><path d="M529 375.5h9M533.5 371v9"/><path d="M574 369.5h9M578.5 365v9"/><path d="M594 364.5h9M598.5 360v9"/><path d="M541 372.5h9M545.5 368v9"/><path d="M557 397.5h9M561.5 393v9"/><path d="M569 374.5h9M573.5 370v9"/><path d="M506 404.5h9M510.5 400v9"/><path d="M544 405.5h9M548.5 401v9"/><path d="M572 410.5h9M576.5 406v9"/><path d="M585 408.5h9M589.5 404v9"/><path d="M601 392.5h9M605.5 388v9"/><path d="M548 429.5h9M552.5 425v9"/><path d="M572 422.5h9M576.5 418v9"/><path d="M545 307.5h9M549.5 303v9"/><path d="M533 318.5h9M537.5 314v9"/><path d="M510 349.5h9M514.5 345v9"/><path d="M547 333.5h9M551.5 329v9"/><path d="M554 334.5h9M558.5 330v9"/><path d="M544 358.5h9M548.5 354v9"/><path d="M572 357.5h9M576.5 353v9"/><path d="M585 369.5h9M589.5 365v9"/><path d="M554 391.5h9M558.5 387v9"/><path d="M573 387.5h9M577.5 383v9"/><path d="M566 379.5h9M570.5 375v9"/><path d="M528 400.5h9M532.5 396v9"/><path d="M545 393.5h9M549.5 389v9"/><path d="M565 401.5h9M569.5 397v9"/><path d="M594 392.5h9M598.5 388v9"/><path d="M596 413.5h9M600.5 409v9"/><path d="M557 423.5h9M561.5 419v9"/><path d="M576 412.5h9M580.5 408v9"/><path d="M535 316.5h9M539.5 312v9"/><path d="M549 319.5h9M553.5 315v9"/><path d="M526 353.5h9M530.5 349v9"/><path d="M549 331.5h9M553.5 327v9"/><path d="M550 358.5h9M554.5 354v9"/><path d="M534 373.5h9M538.5 369v9"/><path d="M564 376.5h9M568.5 372v9"/><path d="M568 378.5h9M572.5 374v9"/><path d="M552 377.5h9M556.5 373v9"/><path d="M567 370.5h9M571.5 366v9"/><path d="M591 382.5h9M595.5 378v9"/><path d="M528 413.5h9M532.5 409v9"/><path d="M526 416.5h9M530.5 412v9"/><path d="M549 394.5h9M553.5 390v9"/><path d="M579 397.5h9M583.5 393v9"/><path d="M605 395.5h9M609.5 391v9"/><path d="M564 432.5h9M568.5 428v9"/><path d="M594 421.5h9M598.5 417v9"/><path d="M534 307.5h9M538.5 303v9"/><path d="M545 337.5h9M549.5 333v9"/><path d="M523 343.5h9M527.5 339v9"/><path d="M534 351.5h9M538.5 347v9"/><path d="M565 332.5h9M569.5 328v9"/><path d="M534 355.5h9M538.5 351v9"/><path d="M560 361.5h9M564.5 357v9"/><path d="M570 365.5h9M574.5 361v9"/><path d="M545 380.5h9M549.5 376v9"/><path d="M571 373.5h9M575.5 369v9"/><path d="M567 391.5h9M571.5 387v9"/><path d="M522 412.5h9M526.5 408v9"/><path d="M554 405.5h9M558.5 401v9"/><path d="M570 409.5h9M574.5 405v9"/><path d="M581 405.5h9M585.5 401v9"/><path d="M615 400.5h9M619.5 396v9"/><path d="M558 424.5h9M562.5 420v9"/><path d="M585 411.5h9M589.5 407v9"/><path d="M545 311.5h9M549.5 307v9"/><path d="M537 343.5h9M541.5 339v9"/><path d="M562 347.5h9M566.5 343v9"/><path d="M544 350.5h9M548.5 346v9"/><path d="M555 372.5h9M559.5 368v9"/><path d="M578 374.5h9M582.5 370v9"/><path d="M542 387.5h9M546.5 383v9"/><path d="M566 399.5h9M570.5 395v9"/><path d="M566 373.5h9M570.5 369v9"/><path d="M508 396.5h9M512.5 392v9"/><path d="M526 419.5h9M530.5 415v9"/><path d="M550 404.5h9M554.5 400v9"/><path d="M592 404.5h9M596.5 400v9"/><path d="M593 398.5h9M597.5 394v9"/><path d="M558 419.5h9M562.5 415v9"/><path d="M580 422.5h9M584.5 418v9"/><path d="M528 336.5h9M532.5 332v9"/><path d="M555 346.5h9M559.5 342v9"/><path d="M548 357.5h9M552.5 353v9"/><path d="M536 361.5h9M540.5 357v9"/><path d="M553 377.5h9M557.5 373v9"/><path d="M586 359.5h9M590.5 355v9"/><path d="M537 382.5h9M541.5 378v9"/><path d="M557 390.5h9M561.5 386v9"/><path d="M594 371.5h9M598.5 367v9"/><path d="M531 415.5h9M535.5 411v9"/><path d="M532 419.5h9M536.5 415v9"/><path d="M572 411.5h9M576.5 407v9"/><path d="M569 403.5h9M573.5 399v9"/><path d="M608 406.5h9M612.5 402v9"/><path d="M547 432.5h9M551.5 428v9"/><path d="M578 416.5h9M582.5 412v9"/><path d="M536 313.5h9M540.5 309v9"/><path d="M536 330.5h9M540.5 326v9"/><path d="M575 334.5h9M579.5 330v9"/><path d="M536 359.5h9M540.5 355v9"/><path d="M559 360.5h9M563.5 356v9"/><path d="M592 355.5h9M596.5 351v9"/><path d="M555 381.5h9M559.5 377v9"/><path d="M575 380.5h9M579.5 376v9"/><path d="M568 395.5h9M572.5 391v9"/><path d="M510 412.5h9M514.5 408v9"/><path d="M552 396.5h9M556.5 392v9"/><path d="M555 406.5h9M559.5 402v9"/><path d="M592 415.5h9M596.5 411v9"/><path d="M600 406.5h9M604.5 402v9"/><path d="M570 414.5h9M574.5 410v9"/><path d="M593 435.5h9M597.5 431v9"/><path d="M533 348.5h9M537.5 344v9"/><path d="M567 349.5h9M571.5 345v9"/><path d="M528 351.5h9M532.5 347v9"/><path d="M552 353.5h9M556.5 349v9"/><path d="M580 372.5h9M584.5 368v9"/><path d="M543 397.5h9M547.5 393v9"/><path d="M560 383.5h9M564.5 379v9"/><path d="M569 398.5h9M573.5 394v9"/><path d="M526 419.5h9M530.5 415v9"/><path d="M554 392.5h9M558.5 388v9"/><path d="M564 404.5h9M568.5 400v9"/><path d="M588 391.5h9M592.5 387v9"/><path d="M605 408.5h9M609.5 404v9"/><path d="M557 413.5h9M561.5 409v9"/><path d="M586 411.5h9M590.5 407v9"/><path d="M536 330.5h9M540.5 326v9"/><path d="M555 337.5h9M559.5 333v9"/><path d="M544 370.5h9M548.5 366v9"/><path d="M567 362.5h9M571.5 358v9"/><path d="M588 369.5h9M592.5 365v9"/><path d="M542 393.5h9M546.5 389v9"/><path d="M575 384.5h9M579.5 380v9"/><path d="M594 388.5h9M598.5 384v9"/><path d="M517 404.5h9M521.5 400v9"/><path d="M545 399.5h9M549.5 395v9"/><path d="M573 401.5h9M577.5 397v9"/><path d="M584 415.5h9M588.5 411v9"/><path d="M610 410.5h9M614.5 406v9"/><path d="M567 432.5h9M571.5 428v9"/><path d="M583 422.5h9M587.5 418v9"/><path d="M552 334.5h9M556.5 330v9"/><path d="M549 339.5h9M553.5 335v9"/><path d="M533 379.5h9M537.5 375v9"/><path d="M561 376.5h9M565.5 372v9"/><path d="M582 356.5h9M586.5 352v9"/><path d="M552 396.5h9M556.5 392v9"/><path d="M549 392.5h9M553.5 388v9"/><path d="M583 375.5h9M587.5 371v9"/><path d="M536 412.5h9M540.5 408v9"/><path d="M551 408.5h9M555.5 404v9"/><path d="M581 405.5h9M585.5 401v9"/><path d="M591 414.5h9M595.5 410v9"/><path d="M582 430.5h9M586.5 426v9"/><path d="M544 339.5h9M548.5 335v9"/><path d="M568 341.5h9M572.5 337v9"/><path d="M553 363.5h9M557.5 359v9"/><path d="M551 363.5h9M555.5 359v9"/><path d="M537 398.5h9M541.5 394v9"/><path d="M555 396.5h9M559.5 392v9"/><path d="M566 374.5h9M570.5 370v9"/><path d="M534 412.5h9M538.5 408v9"/><path d="M564 402.5h9M568.5 398v9"/><path d="M578 415.5h9M582.5 411v9"/><path d="M592 413.5h9M596.5 409v9"/><path d="M577 430.5h9M581.5 426v9"/><path d="M550 342.5h9M554.5 338v9"/><path d="M551 337.5h9M555.5 333v9"/><path d="M533 352.5h9M537.5 348v9"/><path d="M558 369.5h9M562.5 365v9"/><path d="M537 398.5h9M541.5 394v9"/><path d="M574 393.5h9M578.5 389v9"/><path d="M589 379.5h9M593.5 375v9"/><path d="M548 391.5h9M552.5 387v9"/><path d="M546 392.5h9M550.5 388v9"/><path d="M575 411.5h9M579.5 407v9"/><path d="M586 401.5h9M590.5 397v9"/><path d="M543 355.5h9M547.5 351v9"/><path d="M562 337.5h9M566.5 333v9"/><path d="M548 365.5h9M552.5 361v9"/><path d="M570 394.5h9M574.5 390v9"/><path d="M584 375.5h9M588.5 371v9"/><path d="M528 391.5h9M532.5 387v9"/><path d="M554 406.5h9M558.5 402v9"/><path d="M570 408.5h9M574.5 404v9"/><path d="M595 413.5h9M599.5 409v9"/><path d="M541 353.5h9M545.5 349v9"/><path d="M553 347.5h9M557.5 343v9"/><path d="M572 350.5h9M576.5 346v9"/><path d="M573 387.5h9M577.5 383v9"/><path d="M595 378.5h9M599.5 374v9"/><path d="M540 410.5h9M544.5 406v9"/><path d="M563 408.5h9M567.5 404v9"/><path d="M591 394.5h9M595.5 390v9"/><path d="M607 403.5h9M611.5 399v9"/><path d="M553 358.5h9M557.5 354v9"/><path d="M559 340.5h9M563.5 336v9"/><path d="M573 378.5h9M577.5 374v9"/><path d="M569 397.5h9M573.5 393v9"/><path d="M594 384.5h9M598.5 380v9"/><path d="M536 391.5h9M540.5 387v9"/><path d="M579 396.5h9M583.5 392v9"/><path d="M607 408.5h9M611.5 404v9"/><path d="M554 350.5h9M558.5 346v9"/><path d="M553 341.5h9M557.5 337v9"/><path d="M561 366.5h9M565.5 362v9"/><path d="M574 388.5h9M578.5 384v9"/><path d="M575 378.5h9M579.5 374v9"/><path d="M543 392.5h9M547.5 388v9"/><path d="M579 416.5h9M583.5 412v9"/><path d="M613 406.5h9M617.5 402v9"/><path d="M542 339.5h9M546.5 335v9"/><path d="M563 363.5h9M567.5 359v9"/><path d="M565 398.5h9M569.5 394v9"/><path d="M588 374.5h9M592.5 370v9"/><path d="M531 410.5h9M535.5 406v9"/><path d="M595 407.5h9M599.5 403v9"/><path d="M611 398.5h9M615.5 394v9"/><path d="M533 359.5h9M537.5 355v9"/><path d="M572 363.5h9M576.5 359v9"/><path d="M570 389.5h9M574.5 385v9"/><path d="M589 387.5h9M593.5 383v9"/><path d="M546 418.5h9M550.5 414v9"/><path d="M578 412.5h9M582.5 408v9"/><path d="M614 391.5h9M618.5 387v9"/><path d="M533 340.5h9M537.5 336v9"/><path d="M563 363.5h9M567.5 359v9"/><path d="M574 375.5h9M578.5 371v9"/><path d="M575 372.5h9M579.5 368v9"/><path d="M531 407.5h9M535.5 403v9"/><path d="M567 418.5h9M571.5 414v9"/><path d="M608 392.5h9M612.5 388v9"/><path d="M549 333.5h9M553.5 329v9"/><path d="M561 356.5h9M565.5 352v9"/><path d="M551 385.5h9M555.5 381v9"/><path d="M592 372.5h9M596.5 368v9"/><path d="M532 404.5h9M536.5 400v9"/><path d="M594 400.5h9M598.5 396v9"/><path d="M612 406.5h9M616.5 402v9"/><path d="M539 352.5h9M543.5 348v9"/><path d="M551 365.5h9M555.5 361v9"/><path d="M547 385.5h9M551.5 381v9"/><path d="M595 372.5h9M599.5 368v9"/><path d="M568 407.5h9M572.5 403v9"/><path d="M613 406.5h9M617.5 402v9"/><path d="M554 339.5h9M558.5 335v9"/><path d="M575 356.5h9M579.5 352v9"/><path d="M569 380.5h9M573.5 376v9"/><path d="M591 371.5h9M595.5 367v9"/><path d="M575 417.5h9M579.5 413v9"/><path d="M609 404.5h9M613.5 400v9"/><path d="M537 358.5h9M541.5 354v9"/><path d="M551 355.5h9M555.5 351v9"/><path d="M547 390.5h9M551.5 386v9"/><path d="M593 373.5h9M597.5 369v9"/><path d="M588 412.5h9M592.5 408v9"/><path d="M592 405.5h9M596.5 401v9"/><path d="M543 331.5h9M547.5 327v9"/><path d="M574 353.5h9M578.5 349v9"/><path d="M550 391.5h9M554.5 387v9"/><path d="M581 393.5h9M585.5 389v9"/><path d="M585 392.5h9M589.5 388v9"/><path d="M599 419.5h9M603.5 415v9"/><path d="M535 335.5h9M539.5 331v9"/><path d="M572 352.5h9M576.5 348v9"/><path d="M558 399.5h9M562.5 395v9"/><path d="M591 373.5h9M595.5 369v9"/><path d="M568 404.5h9M572.5 400v9"/><path d="M606 414.5h9M610.5 410v9"/><path d="M531 342.5h9M535.5 338v9"/><path d="M559 359.5h9M563.5 355v9"/><path d="M566 386.5h9M570.5 382v9"/><path d="M578 393.5h9M582.5 389v9"/><path d="M574 408.5h9M578.5 404v9"/><path d="M609 400.5h9M613.5 396v9"/><path d="M526 330.5h9M530.5 326v9"/><path d="M569 394.5h9M573.5 390v9"/><path d="M587 370.5h9M591.5 366v9"/><path d="M573 418.5h9M577.5 414v9"/><path d="M542 342.5h9M546.5 338v9"/><path d="M575 399.5h9M579.5 395v9"/><path d="M573 391.5h9M577.5 387v9"/><path d="M590 415.5h9M594.5 411v9"/><path d="M553 352.5h9M557.5 348v9"/><path d="M548 379.5h9M552.5 375v9"/><path d="M572 389.5h9M576.5 385v9"/><path d="M582 419.5h9M586.5 415v9"/><path d="M533 333.5h9M537.5 329v9"/><path d="M546 375.5h9M550.5 371v9"/><path d="M592 388.5h9M596.5 384v9"/><path d="M573 407.5h9M577.5 403v9"/><path d="M545 339.5h9M549.5 335v9"/><path d="M546 391.5h9M550.5 387v9"/><path d="M583 372.5h9M587.5 368v9"/><path d="M581 394.5h9M585.5 390v9"/><path d="M538 352.5h9M542.5 348v9"/><path d="M564 379.5h9M568.5 375v9"/><path d="M588 377.5h9M592.5 373v9"/><path d="M585 398.5h9M589.5 394v9"/><path d="M544 347.5h9M548.5 343v9"/><path d="M564 395.5h9M568.5 391v9"/><path d="M590 399.5h9M594.5 395v9"/><path d="M572 419.5h9M576.5 415v9"/><path d="M546 334.5h9M550.5 330v9"/><path d="M546 377.5h9M550.5 373v9"/><path d="M579 389.5h9M583.5 385v9"/><path d="M592 415.5h9M596.5 411v9"/><path d="M553 356.5h9M557.5 352v9"/><path d="M572 399.5h9M576.5 395v9"/><path d="M588 374.5h9M592.5 370v9"/><path d="M583 403.5h9M587.5 399v9"/><path d="M546 338.5h9M550.5 334v9"/><path d="M573 378.5h9M577.5 374v9"/><path d="M579 375.5h9M583.5 371v9"/><path d="M553 356.5h9M557.5 352v9"/><path d="M574 376.5h9M578.5 372v9"/><path d="M576 397.5h9M580.5 393v9"/><path d="M552 333.5h9M556.5 329v9"/><path d="M559 371.5h9M563.5 367v9"/><path d="M590 395.5h9M594.5 391v9"/><path d="M554 354.5h9M558.5 350v9"/><path d="M558 381.5h9M562.5 377v9"/><path d="M585 382.5h9M589.5 378v9"/><path d="M554 343.5h9M558.5 339v9"/><path d="M559 399.5h9M563.5 395v9"/><path d="M573 379.5h9M577.5 375v9"/><path d="M528 357.5h9M532.5 353v9"/><path d="M561 383.5h9M565.5 379v9"/><path d="M592 397.5h9M596.5 393v9"/><path d="M532 333.5h9M536.5 329v9"/><path d="M572 398.5h9M576.5 394v9"/><path d="M582 391.5h9M586.5 387v9"/><path d="M526 344.5h9M530.5 340v9"/><path d="M548 373.5h9M552.5 369v9"/><path d="M567 386.5h9M571.5 382v9"/><path d="M543 342.5h9M547.5 338v9"/><path d="M567 372.5h9M571.5 368v9"/><path d="M572 375.5h9M576.5 371v9"/><path d="M561 393.5h9M565.5 389v9"/><path d="M571 397.5h9M575.5 393v9"/><path d="M556 375.5h9M560.5 371v9"/><path d="M573 393.5h9M577.5 389v9"/><path d="M546 382.5h9M550.5 378v9"/><path d="M574 385.5h9M578.5 381v9"/><path d="M557 372.5h9M561.5 368v9"/><path d="M570 398.5h9M574.5 394v9"/><path d="M562 397.5h9M566.5 393v9"/><path d="M594 388.5h9M598.5 384v9"/><path d="M573 382.5h9M577.5 378v9"/><path d="M574 394.5h9M578.5 390v9"/><path d="M555 377.5h9M559.5 373v9"/><path d="M580 382.5h9M584.5 378v9"/><path d="M574 396.5h9M578.5 392v9"/><path d="M567 396.5h9M571.5 392v9"/><path d="M553 377.5h9M557.5 373v9"/><path d="M556 387.5h9M560.5 383v9"/><path d="M546 372.5h9M550.5 368v9"/><path d="M553 372.5h9M557.5 368v9"/><path d="M553 373.5h9M557.5 369v9"/><path d="M554 383.5h9M558.5 379v9"/></g>
<g stroke="#0000ff" stroke-width="0.7" fill="none"><path d="M286.4 416.2l8.6 8.6M295.0 416.2l-8.6 8.6"/><path d="M287.8 415.7l8.6 8.6M296.4 415.7l-8.6 8.6"/><path d="M287.9 416.7l8.6 8.6M296.5 416.7l-8.6 8.6"/><path d="M288.6 414.5l8.6 8.6M297.2 414.5l-8.6 8.6"/><path d="M289.1 415.5l8.6 8.6M297.7 415.5l-8.6 8.6"/><path d="M290.5 416.2l8.6 8.6M299.1 416.2l-8.6 8.6"/><path d="M291.1 415.5l8.6 8.6M299.7 415.5l-8.6 8.6"/><path d="M291.6 415.2l8.6 8.6M300.2 415.2l-8.6 8.6"/><path d="M292.4 415.5l8.6 8.6M301.0 415.5l-8.6 8.6"/><path d="M292.6 414.9l8.6 8.6M301.2 414.9l-8.6 8.6"/><path d="M293.4 415.8l8.6 8.6M302.0 415.8l-8.6 8.6"/><path d="M294.5 417.2l8.6 8.6M303.1 417.2l-8.6 8.6"/><path d="M295.5 416.4l8.6 8.6M304.1 416.4l-8.6 8.6"/><path d="M296.1 415.0l8.6 8.6M304.7 415.0l-8.6 8.6"/><path d="M296.6 415.2l8.6 8.6M305.2 415.2l-8.6 8.6"/><path d="M297.2 415.5l8.6 8.6M305.8 415.5l-8.6 8.6"/><path d="M297.4 416.3l8.6 8.6M306.0 416.3l-8.6 8.6"/><path d="M299.0 415.2l8.6 8.6M307.6 415.2l-8.6 8.6"/><path d="M298.8 415.3l8.6 8.6M307.4 415.3l-8.6 8.6"/><path d="M299.6 416.2l8.6 8.6M308.2 416.2l-8.6 8.6"/><path d="M300.8 416.2l8.6 8.6M309.4 416.2l-8.6 8.6"/><path d="M301.7 415.5l8.6 8.6M310.3 415.5l-8.6 8.6"/><path d="M302.3 415.0l8.6 8.6M310.9 415.0l-8.6 8.6"/><path d="M302.7 414.8l8.6 8.6M311.3 414.8l-8.6 8.6"/><path d="M303.1 415.3l8.6 8.6M311.7 415.3l-8.6 8.6"/><path d="M303.7 414.4l8.6 8.6M312.3 414.4l-8.6 8.6"/><path d="M305.2 416.1l8.6 8.6M313.8 416.1l-8.6 8.6"/><path d="M306.0 415.3l8.6 8.6M314.6 415.3l-8.6 8.6"/><path d="M306.0 416.0l8.6 8.6M314.6 416.0l-8.6 8.6"/><path d="M307.3 416.8l8.6 8.6M315.9 416.8l-8.6 8.6"/><path d="M307.5 416.4l8.6 8.6M316.1 416.4l-8.6 8.6"/><path d="M308.1 415.0l8.6 8.6M316.7 415.0l-8.6 8.6"/><path d="M309.0 416.2l8.6 8.6M317.6 416.2l-8.6 8.6"/><path d="M309.2 416.4l8.6 8.6M317.8 416.4l-8.6 8.6"/><path d="M310.4 415.3l8.6 8.6M319.0 415.3l-8.6 8.6"/><path d="M310.8 415.1l8.6 8.6M319.4 415.1l-8.6 8.6"/><path d="M312.0 415.6l8.6 8.6M320.6 415.6l-8.6 8.6"/><path d="M312.5 414.7l8.6 8.6M321.1 414.7l-8.6 8.6"/><path d="M313.6 416.6l8.6 8.6M322.2 416.6l-8.6 8.6"/><path d="M314.3 414.3l8.6 8.6M322.9 414.3l-8.6 8.6"/><path d="M314.4 415.0l8.6 8.6M323.0 415.0l-8.6 8.6"/><path d="M315.1 415.5l8.6 8.6M323.7 415.5l-8.6 8.6"/><path d="M316.4 415.6l8.6 8.6M325.0 415.6l-8.6 8.6"/><path d="M316.7 415.8l8.6 8.6M325.3 415.8l-8.6 8.6"/><path d="M317.0 415.9l8.6 8.6M325.6 415.9l-8.6 8.6"/><path d="M317.6 415.6l8.6 8.6M326.2 415.6l-8.6 8.6"/><path d="M319.3 416.4l8.6 8.6M327.9 416.4l-8.6 8.6"/><path d="M319.6 414.4l8.6 8.6M328.2 414.4l-8.6 8.6"/><path d="M319.7 415.7l8.6 8.6M328.3 415.7l-8.6 8.6"/><path d="M320.9 415.3l8.6 8.6M329.5 415.3l-8.6 8.6"/><path d="M321.6 415.8l8.6 8.6M330.2 415.8l-8.6 8.6"/><path d="M322.2 415.8l8.6 8.6M330.8 415.8l-8.6 8.6"/><path d="M323.4 415.2l8.6 8.6M332.0 415.2l-8.6 8.6"/><path d="M324.1 415.3l8.6 8.6M332.7 415.3l-8.6 8.6"/><path d="M324.0 416.2l8.6 8.6M332.6 416.2l-8.6 8.6"/><path d="M324.7 415.9l8.6 8.6M333.3 415.9l-8.6 8.6"/><path d="M325.7 415.3l8.6 8.6M334.3 415.3l-8.6 8.6"/><path d="M326.8 416.9l8.6 8.6M335.4 416.9l-8.6 8.6"/><path d="M327.3 417.1l8.6 8.6M335.9 417.1l-8.6 8.6"/><path d="M328.1 414.8l8.6 8.6M336.7 414.8l-8.6 8.6"/><path d="M328.6 415.9l8.6 8.6M337.2 415.9l-8.6 8.6"/><path d="M329.0 417.2l8.6 8.6M337.6 417.2l-8.6 8.6"/><path d="M330.3 416.2l8.6 8.6M338.9 416.2l-8.6 8.6"/><path d="M330.2 415.8l8.6 8.6M338.8 415.8l-8.6 8.6"/><path d="M331.5 415.6l8.6 8.6M340.1 415.6l-8.6 8.6"/><path d="M331.7 415.4l8.6 8.6M340.3 415.4l-8.6 8.6"/><path d="M332.7 415.6l8.6 8.6M341.3 415.6l-8.6 8.6"/><path d="M333.9 415.4l8.6 8.6M342.5 415.4l-8.6 8.6"/><path d="M334.2 416.1l8.6 8.6M342.8 416.1l-8.6 8.6"/><path d="M334.4 415.5l8.6 8.6M343.0 415.5l-8.6 8.6"/><path d="M335.5 415.4l8.6 8.6M344.1 415.4l-8.6 8.6"/><path d="M336.4 415.0l8.6 8.6M345.0 415.0l-8.6 8.6"/><path d="M336.5 415.7l8.6 8.6M345.1 415.7l-8.6 8.6"/><path d="M337.4 415.2l8.6 8.6M346.0 415.2l-8.6 8.6"/><path d="M337.8 415.6l8.6 8.6M346.4 415.6l-8.6 8.6"/><path d="M339.1 416.3l8.6 8.6M347.7 416.3l-8.6 8.6"/><path d="M339.6 415.9l8.6 8.6M348.2 415.9l-8.6 8.6"/><path d="M340.4 416.0l8.6 8.6M349.0 416.0l-8.6 8.6"/><path d="M340.9 415.9l8.6 8.6M349.5 415.9l-8.6 8.6"/><path d="M342.0 415.7l8.6 8.6M350.6 415.7l-8.6 8.6"/><path d="M342.2 415.6l8.6 8.6M350.8 415.6l-8.6 8.6"/><path d="M343.6 415.5l8.6 8.6M352.2 415.5l-8.6 8.6"/><path d="M344.4 416.2l8.6 8.6M353.0 416.2l-8.6 8.6"/><path d="M344.6 415.0l8.6 8.6M353.2 415.0l-8.6 8.6"/><path d="M345.3 416.5l8.6 8.6M353.9 416.5l-8.6 8.6"/><path d="M346.4 415.7l8.6 8.6M355.0 415.7l-8.6 8.6"/><path d="M346.5 415.3l8.6 8.6M355.1 415.3l-8.6 8.6"/><path d="M347.7 415.4l8.6 8.6M356.3 415.4l-8.6 8.6"/><path d="M347.9 415.3l8.6 8.6M356.5 415.3l-8.6 8.6"/><path d="M349.0 415.8l8.6 8.6M357.6 415.8l-8.6 8.6"/><path d="M349.3 415.3l8.6 8.6M357.9 415.3l-8.6 8.6"/><path d="M350.3 416.4l8.6 8.6M358.9 416.4l-8.6 8.6"/><path d="M351.3 415.2l8.6 8.6M359.9 415.2l-8.6 8.6"/><path d="M351.1 414.3l8.6 8.6M359.7 414.3l-8.6 8.6"/><path d="M352.6 415.3l8.6 8.6M361.2 415.3l-8.6 8.6"/><path d="M353.0 414.5l8.6 8.6M361.6 414.5l-8.6 8.6"/><path d="M353.6 415.7l8.6 8.6M362.2 415.7l-8.6 8.6"/><path d="M354.2 416.3l8.6 8.6M362.8 416.3l-8.6 8.6"/><path d="M354.6 416.1l8.6 8.6M363.2 416.1l-8.6 8.6"/><path d="M355.5 414.9l8.6 8.6M364.1 414.9l-8.6 8.6"/><path d="M356.6 415.2l8.6 8.6M365.2 415.2l-8.6 8.6"/><path d="M356.8 416.8l8.6 8.6M365.4 416.8l-8.6 8.6"/><path d="M358.0 415.9l8.6 8.6M366.6 415.9l-8.6 8.6"/><path d="M359.0 415.7l8.6 8.6M367.6 415.7l-8.6 8.6"/><path d="M359.7 416.3l8.6 8.6M368.3 416.3l-8.6 8.6"/><path d="M360.3 417.2l8.6 8.6M368.9 417.2l-8.6 8.6"/><path d="M361.0 416.5l8.6 8.6M369.6 416.5l-8.6 8.6"/><path d="M361.0 415.8l8.6 8.6M369.6 415.8l-8.6 8.6"/><path d="M362.5 415.9l8.6 8.6M371.1 415.9l-8.6 8.6"/><path d="M362.4 416.1l8.6 8.6M371.0 416.1l-8.6 8.6"/><path d="M363.8 415.3l8.6 8.6M372.4 415.3l-8.6 8.6"/><path d="M364.5 415.1l8.6 8.6M373.1 415.1l-8.6 8.6"/><path d="M365.0 415.7l8.6 8.6M373.6 415.7l-8.6 8.6"/><path d="M365.6 415.1l8.6 8.6M374.2 415.1l-8.6 8.6"/><path d="M365.9 415.7l8.6 8.6M374.5 415.7l-8.6 8.6"/><path d="M367.0 415.8l8.6 8.6M375.6 415.8l-8.6 8.6"/><path d="M367.4 417.1l8.6 8.6M376.0 417.1l-8.6 8.6"/><path d="M368.0 415.2l8.6 8.6M376.6 415.2l-8.6 8.6"/><path d="M368.7 415.6l8.6 8.6M377.3 415.6l-8.6 8.6"/><path d="M370.0 415.6l8.6 8.6M378.6 415.6l-8.6 8.6"/><path d="M370.8 416.0l8.6 8.6M379.4 416.0l-8.6 8.6"/><path d="M370.8 416.3l8.6 8.6M379.4 416.3l-8.6 8.6"/><path d="M371.3 415.4l8.6 8.6M379.9 415.4l-8.6 8.6"/><path d="M372.3 415.2l8.6 8.6M380.9 415.2l-8.6 8.6"/><path d="M372.8 414.7l8.6 8.6M381.4 414.7l-8.6 8.6"/><path d="M373.6 415.1l8.6 8.6M382.2 415.1l-8.6 8.6"/><path d="M374.7 416.0l8.6 8.6M383.3 416.0l-8.6 8.6"/><path d="M375.2 415.7l8.6 8.6M383.8 415.7l-8.6 8.6"/><path d="M375.9 415.1l8.6 8.6M384.5 415.1l-8.6 8.6"/><path d="M376.4 415.5l8.6 8.6M385.0 415.5l-8.6 8.6"/><path d="M351.9 415.7l8.6 8.6M360.5 415.7l-8.6 8.6"/><path d="M352.1 416.0l8.6 8.6M360.7 416.0l-8.6 8.6"/><path d="M352.8 415.3l8.6 8.6M361.4 415.3l-8.6 8.6"/><path d="M353.5 415.5l8.6 8.6M362.1 415.5l-8.6 8.6"/><path d="M354.6 414.6l8.6 8.6M363.2 414.6l-8.6 8.6"/><path d="M354.5 415.0l8.6 8.6M363.1 415.0l-8.6 8.6"/><path d="M355.6 416.7l8.6 8.6M364.2 416.7l-8.6 8.6"/><path d="M355.8 414.4l8.6 8.6M364.4 414.4l-8.6 8.6"/><path d="M357.0 415.5l8.6 8.6M365.6 415.5l-8.6 8.6"/><path d="M357.1 415.8l8.6 8.6M365.7 415.8l-8.6 8.6"/><path d="M357.9 415.5l8.6 8.6M366.5 415.5l-8.6 8.6"/><path d="M358.8 415.2l8.6 8.6M367.4 415.2l-8.6 8.6"/><path d="M359.3 415.7l8.6 8.6M367.9 415.7l-8.6 8.6"/><path d="M359.3 415.7l8.6 8.6M367.9 415.7l-8.6 8.6"/><path d="M360.0 415.7l8.6 8.6M368.6 415.7l-8.6 8.6"/><path d="M361.4 414.6l8.6 8.6M370.0 414.6l-8.6 8.6"/><path d="M361.1 415.6l8.6 8.6M369.7 415.6l-8.6 8.6"/><path d="M362.0 415.2l8.6 8.6M370.6 415.2l-8.6 8.6"/><path d="M363.2 415.4l8.6 8.6M371.8 415.4l-8.6 8.6"/><path d="M362.9 415.8l8.6 8.6M371.5 415.8l-8.6 8.6"/><path d="M363.7 416.1l8.6 8.6M372.3 416.1l-8.6 8.6"/><path d="M364.3 416.2l8.6 8.6M372.9 416.2l-8.6 8.6"/><path d="M364.8 415.4l8.6 8.6M373.4 415.4l-8.6 8.6"/><path d="M365.8 416.3l8.6 8.6M374.4 416.3l-8.6 8.6"/><path d="M366.6 416.4l8.6 8.6M375.2 416.4l-8.6 8.6"/><path d="M366.9 416.4l8.6 8.6M375.5 416.4l-8.6 8.6"/><path d="M367.3 416.5l8.6 8.6M375.9 416.5l-8.6 8.6"/><path d="M368.6 415.6l8.6 8.6M377.2 415.6l-8.6 8.6"/><path d="M369.2 415.6l8.6 8.6M377.8 415.6l-8.6 8.6"/><path d="M369.6 416.2l8.6 8.6M378.2 416.2l-8.6 8.6"/><path d="M369.8 414.9l8.6 8.6M378.4 414.9l-8.6 8.6"/><path d="M370.8 415.8l8.6 8.6M379.4 415.8l-8.6 8.6"/><path d="M371.5 415.4l8.6 8.6M380.1 415.4l-8.6 8.6"/><path d="M371.9 415.5l8.6 8.6M380.5 415.5l-8.6 8.6"/><path d="M373.0 414.7l8.6 8.6M381.6 414.7l-8.6 8.6"/><path d="M373.1 415.2l8.6 8.6M381.7 415.2l-8.6 8.6"/><path d="M373.9 415.7l8.6 8.6M382.5 415.7l-8.6 8.6"/><path d="M374.1 416.2l8.6 8.6M382.7 416.2l-8.6 8.6"/><path d="M375.1 416.3l8.6 8.6M383.7 416.3l-8.6 8.6"/><path d="M376.0 415.7l8.6 8.6M384.6 415.7l-8.6 8.6"/><path d="M348.1 254.0l8.6 8.6M356.7 254.0l-8.6 8.6"/><path d="M370.3 370.9l8.6 8.6M378.9 370.9l-8.6 8.6"/><path d="M369.7 401.7l8.6 8.6M378.3 401.7l-8.6 8.6"/><path d="M281.7 411.7l8.6 8.6M290.3 411.7l-8.6 8.6"/><path d="M282.7 416.7l8.6 8.6M291.3 416.7l-8.6 8.6"/><path d="M373.2 427.2l8.6 8.6M381.8 427.2l-8.6 8.6"/></g>
<circle cx="295.0" cy="419.7" r="4.5" fill="#000"/>
<circle cx="296.0" cy="419.6" r="4.5" fill="#000"/>
<circle cx="297.0" cy="419.9" r="4.5" fill="#000"/>
<circle cx="298.1" cy="419.7" r="4.5" fill="#000"/>
<circle cx="299.1" cy="420.0" r="4.5" fill="#000"/>
<circle cx="300.1" cy="420.3" r="4.5" fill="#000"/>
<circle cx="301.1" cy="419.8" r="4.5" fill="#000"/>
<circle cx="302.1" cy="419.4" r="4.5" fill="#000"/>
<circle cx="303.1" cy="419.5" r="4.5" fill="#000"/>
<circle cx="304.2" cy="419.4" r="4.5" fill="#000"/>
<circle cx="305.2" cy="419.4" r="4.5" fill="#000"/>
<circle cx="306.2" cy="420.2" r="4.5" fill="#000"/>
<circle cx="307.2" cy="419.9" r="4.5" fill="#000"/>
<circle cx="308.2" cy="419.3" r="4.5" fill="#000"/>
<circle cx="309.2" cy="420.0" r="4.5" fill="#000"/>
<circle cx="310.3" cy="420.2" r="4.5" fill="#000"/>
<circle cx="311.3" cy="419.7" r="4.5" fill="#000"/>
<circle cx="312.3" cy="419.6" r="4.5" fill="#000"/>
<circle cx="313.3" cy="419.7" r="4.5" fill="#000"/>
<circle cx="314.3" cy="419.9" r="4.5" fill="#000"/>
<circle cx="315.3" cy="420.0" r="4.5" fill="#000"/>
<circle cx="316.4" cy="420.2" r="4.5" fill="#000"/>
<circle cx="317.4" cy="420.2" r="4.5" fill="#000"/>
<circle cx="318.4" cy="420.2" r="4.5" fill="#000"/>
<circle cx="319.4" cy="420.2" r="4.5" fill="#000"/>
<circle cx="320.4" cy="420.0" r="4.5" fill="#000"/>
<circle cx="321.4" cy="419.3" r="4.5" fill="#000"/>
<circle cx="322.5" cy="419.8" r="4.5" fill="#000"/>
<circle cx="323.5" cy="419.9" r="4.5" fill="#000"/>
<circle cx="324.5" cy="419.7" r="4.5" fill="#000"/>
<circle cx="336.5" cy="420.1" r="4.5" fill="#000"/>
<circle cx="337.5" cy="419.7" r="4.5" fill="#000"/>
<circle cx="338.6" cy="419.5" r="4.5" fill="#000"/>
<circle cx="339.6" cy="420.2" r="4.5" fill="#000"/>
<circle cx="340.6" cy="420.0" r="4.5" fill="#000"/>
<circle cx="341.7" cy="419.9" r="4.5" fill="#000"/>
<circle cx="342.7" cy="420.1" r="4.5" fill="#000"/>
<circle cx="343.7" cy="420.1" r="4.5" fill="#000"/>
<circle cx="344.8" cy="419.9" r="4.5" fill="#000"/>
<circle cx="345.8" cy="419.1" r="4.5" fill="#000"/>
<circle cx="346.8" cy="419.6" r="4.5" fill="#000"/>
<circle cx="347.9" cy="419.7" r="4.5" fill="#000"/>
<circle cx="348.9" cy="419.5" r="4.5" fill="#000"/>
<circle cx="349.9" cy="419.9" r="4.5" fill="#000"/>
<circle cx="351.0" cy="420.2" r="4.5" fill="#000"/>
<circle cx="352.0" cy="419.7" r="4.5" fill="#000"/>
<line x1="100" y1="420.5" x2="720" y2="420.5" stroke="#0000ff" stroke-width="1.4" stroke-dasharray="8.33 8.33"/>
</g>
<rect x="100.5" y="60.5" width="620" height="480" fill="none" stroke="#000" stroke-width="1.2"/>
<path d="M100.5 540v-6M183.5 540v-6M265.5 540v-6M348.5 540v-6M431.5 540v-6M513.5 540v-6M596.5 540v-6M679.5 540v-6M139.5 60v6M222.5 60v6M304.5 60v6M387.5 60v6M470.5 60v6M552.5 60v6M635.5 60v6M718.5 60v6M100 540.5h6M720 540.5h-6M100 420.5h6M720 420.5h-6M100 300.5h6M720 300.5h-6M100 180.5h6M720 180.5h-6M100 60.5h6M720 60.5h-6" stroke="#000" stroke-width="0.75" fill="none"/>
<g font-family="Liberation Sans, sans-serif" font-size="16.67" fill="#000" style="filter:grayscale(1)">
<text x="100.00" y="559.70" font-size="16.67" text-anchor="middle" textLength="35.18" lengthAdjust="spacingAndGlyphs">&#8722;20</text>
<text x="182.67" y="559.70" font-size="16.67" text-anchor="middle" textLength="35.18" lengthAdjust="spacingAndGlyphs">&#8722;18</text>
<text x="265.33" y="559.70" font-size="16.67" text-anchor="middle" textLength="35.18" lengthAdjust="spacingAndGlyphs">&#8722;16</text>
<text x="348.00" y="559.70" font-size="16.67" text-anchor="middle" textLength="35.18" lengthAdjust="spacingAndGlyphs">&#8722;14</text>
<text x="430.67" y="559.70" font-size="16.67" text-anchor="middle" textLength="35.18" lengthAdjust="spacingAndGlyphs">&#8722;12</text>
<text x="513.33" y="559.70" font-size="16.67" text-anchor="middle" textLength="35.18" lengthAdjust="spacingAndGlyphs">&#8722;10</text>
<text x="596.00" y="559.70" font-size="16.67" text-anchor="middle" textLength="24.57" lengthAdjust="spacingAndGlyphs">&#8722;8</text>
<text x="678.67" y="559.70" font-size="16.67" text-anchor="middle" textLength="24.57" lengthAdjust="spacingAndGlyphs">&#8722;6</text>
<text x="139.51" y="49.30" font-size="16.67" text-anchor="middle" textLength="21.21" lengthAdjust="spacingAndGlyphs">14</text>
<text x="222.18" y="49.30" font-size="16.67" text-anchor="middle" textLength="21.21" lengthAdjust="spacingAndGlyphs">16</text>
<text x="304.85" y="49.30" font-size="16.67" text-anchor="middle" textLength="21.21" lengthAdjust="spacingAndGlyphs">18</text>
<text x="387.51" y="49.30" font-size="16.67" text-anchor="middle" textLength="21.21" lengthAdjust="spacingAndGlyphs">20</text>
<text x="470.18" y="49.30" font-size="16.67" text-anchor="middle" textLength="21.21" lengthAdjust="spacingAndGlyphs">22</text>
<text x="552.85" y="49.30" font-size="16.67" text-anchor="middle" textLength="21.21" lengthAdjust="spacingAndGlyphs">24</text>
<text x="635.51" y="49.30" font-size="16.67" text-anchor="middle" textLength="21.21" lengthAdjust="spacingAndGlyphs">26</text>
<text x="718.18" y="49.30" font-size="16.67" text-anchor="middle" textLength="21.21" lengthAdjust="spacingAndGlyphs">28</text>
<text x="94.30" y="544.90" font-size="16.67" text-anchor="end" textLength="10.61" lengthAdjust="spacingAndGlyphs">0</text>
<text x="94.30" y="424.90" font-size="16.67" text-anchor="end" textLength="10.61" lengthAdjust="spacingAndGlyphs">5</text>
<text x="94.30" y="304.90" font-size="16.67" text-anchor="end" textLength="21.21" lengthAdjust="spacingAndGlyphs">10</text>
<text x="94.30" y="184.90" font-size="16.67" text-anchor="end" textLength="21.21" lengthAdjust="spacingAndGlyphs">15</text>
<text x="94.30" y="64.90" font-size="16.67" text-anchor="end" textLength="21.21" lengthAdjust="spacingAndGlyphs">20</text>
<text x="265.6" y="584" textLength="290.4" lengthAdjust="spacingAndGlyphs">magnitude (bottom:isnt / top:calib)</text>
<text transform="translate(64.4 346) rotate(-90)" x="0" y="0" textLength="93" lengthAdjust="spacingAndGlyphs">FWHM (pix)</text>
<text x="303.25" y="28.5" font-size="20" textLength="215.75" lengthAdjust="spacingAndGlyphs">FWHM vs magnitudes</text>
</g>
<rect x="398.5" y="70.5" width="312" height="122" fill="#fff" stroke="#000" stroke-width="1.2"/>
<path d="M408 86.5h9M412.5 82v9M436 86.5h9M440.5 82v9" stroke="#00bfbf" stroke-width="0.75"/>
<path d="M408.1 111.1l8.8 8.8M416.9 111.1l-8.8 8.8M436.1 111.1l8.8 8.8M444.9 111.1l-8.8 8.8" stroke="#0000ff" stroke-width="0.75"/>
<circle cx="412.5" cy="144.5" r="4.5"/><circle cx="440.5" cy="144.5" r="4.5"/>
<path d="M412.5 173.5h8.3M429.2 173.5h8.3" stroke="#0000ff" stroke-width="1.4"/>
<g font-family="Liberation Sans, sans-serif" font-size="20" fill="#000" style="filter:grayscale(1)">
<text x="461.50" y="92.75" font-size="20.00" text-anchor="start" textLength="102.44" lengthAdjust="spacingAndGlyphs">all sample</text>
<text x="461.50" y="121.60" font-size="20.00" text-anchor="start" textLength="241.37" lengthAdjust="spacingAndGlyphs">sample for rough FWHM</text>
<text x="461.50" y="150.60" font-size="20.00" text-anchor="start" textLength="230.34" lengthAdjust="spacingAndGlyphs">coarse PSF-like sample</text>
<text x="461.50" y="179.50" font-size="20.00" text-anchor="start" textLength="160.39" lengthAdjust="spacingAndGlyphs">tentative FWHM</text>
</g>
</svg></body></html>
